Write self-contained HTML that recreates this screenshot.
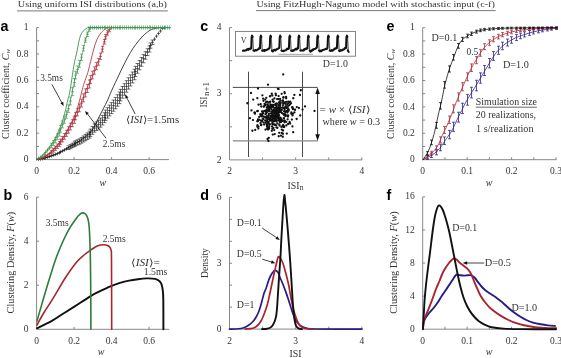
<!DOCTYPE html>
<html><head><meta charset="utf-8"><style>
html,body{margin:0;padding:0;background:#fff;width:561px;height:358px;overflow:hidden;}
svg{display:block;will-change:transform;}

</style></head><body>
<svg width="561" height="358" viewBox="0 0 561 358"><rect width="561" height="358" fill="#ffffff"/><text x="17.80" y="7.20" font-family="Liberation Serif" font-size="9.20" text-anchor="start" font-weight="normal" fill="#333333" textLength="149.20" lengthAdjust="spacingAndGlyphs" >Using uniform ISI distributions (a,b)</text>
<line x1="17.10" y1="10.90" x2="167.80" y2="10.90" stroke="#6a6a6a" stroke-width="0.90" />
<text x="256.40" y="7.20" font-family="Liberation Serif" font-size="9.20" text-anchor="start" font-weight="normal" fill="#333333" textLength="238.50" lengthAdjust="spacingAndGlyphs" >Using FitzHugh-Nagumo model with stochastic input (c-f)</text>
<line x1="256.00" y1="10.60" x2="495.60" y2="10.60" stroke="#6a6a6a" stroke-width="0.90" />
<text x="0.60" y="30.70" font-family="Liberation Sans" font-size="14.30" text-anchor="start" font-weight="bold" fill="#000" >a</text>
<text x="3.60" y="200.20" font-family="Liberation Sans" font-size="14.30" text-anchor="start" font-weight="bold" fill="#000" >b</text>
<text x="200.20" y="30.70" font-family="Liberation Sans" font-size="14.30" text-anchor="start" font-weight="bold" fill="#000" >c</text>
<text x="200.20" y="200.20" font-family="Liberation Sans" font-size="14.30" text-anchor="start" font-weight="bold" fill="#000" >d</text>
<text x="386.40" y="30.70" font-family="Liberation Sans" font-size="14.30" text-anchor="start" font-weight="bold" fill="#000" >e</text>
<text x="386.60" y="200.20" font-family="Liberation Sans" font-size="14.30" text-anchor="start" font-weight="bold" fill="#000" >f</text>
<line x1="36.60" y1="27.60" x2="36.60" y2="159.60" stroke="#7a7a7a" stroke-width="0.90" />
<line x1="36.60" y1="146.40" x2="39.10" y2="146.40" stroke="#7a7a7a" stroke-width="0.90" />
<line x1="36.60" y1="133.20" x2="39.10" y2="133.20" stroke="#7a7a7a" stroke-width="0.90" />
<line x1="36.60" y1="120.00" x2="39.10" y2="120.00" stroke="#7a7a7a" stroke-width="0.90" />
<line x1="36.60" y1="106.80" x2="39.10" y2="106.80" stroke="#7a7a7a" stroke-width="0.90" />
<line x1="36.60" y1="93.60" x2="39.10" y2="93.60" stroke="#7a7a7a" stroke-width="0.90" />
<line x1="36.60" y1="80.40" x2="39.10" y2="80.40" stroke="#7a7a7a" stroke-width="0.90" />
<line x1="36.60" y1="67.20" x2="39.10" y2="67.20" stroke="#7a7a7a" stroke-width="0.90" />
<line x1="36.60" y1="54.00" x2="39.10" y2="54.00" stroke="#7a7a7a" stroke-width="0.90" />
<line x1="36.60" y1="40.80" x2="39.10" y2="40.80" stroke="#7a7a7a" stroke-width="0.90" />
<line x1="36.60" y1="27.60" x2="39.10" y2="27.60" stroke="#7a7a7a" stroke-width="0.90" />
<line x1="36.60" y1="159.60" x2="169.00" y2="159.60" stroke="#7a7a7a" stroke-width="0.90" />
<line x1="74.10" y1="159.60" x2="74.10" y2="157.10" stroke="#7a7a7a" stroke-width="0.90" />
<line x1="111.60" y1="159.60" x2="111.60" y2="157.10" stroke="#7a7a7a" stroke-width="0.90" />
<line x1="149.10" y1="159.60" x2="149.10" y2="157.10" stroke="#7a7a7a" stroke-width="0.90" />
<text x="28.40" y="162.20" font-family="Liberation Serif" font-size="9.50" text-anchor="end" font-weight="normal" fill="#333333" >0</text>
<text x="28.40" y="135.80" font-family="Liberation Serif" font-size="9.50" text-anchor="end" font-weight="normal" fill="#333333" >0.2</text>
<text x="28.40" y="109.40" font-family="Liberation Serif" font-size="9.50" text-anchor="end" font-weight="normal" fill="#333333" >0.4</text>
<text x="28.40" y="83.00" font-family="Liberation Serif" font-size="9.50" text-anchor="end" font-weight="normal" fill="#333333" >0.6</text>
<text x="28.40" y="56.60" font-family="Liberation Serif" font-size="9.50" text-anchor="end" font-weight="normal" fill="#333333" >0.8</text>
<text x="28.40" y="30.20" font-family="Liberation Serif" font-size="9.50" text-anchor="end" font-weight="normal" fill="#333333" >1</text>
<text x="36.60" y="174.30" font-family="Liberation Serif" font-size="9.50" text-anchor="middle" font-weight="normal" fill="#333333" >0</text>
<text x="74.10" y="174.30" font-family="Liberation Serif" font-size="9.50" text-anchor="middle" font-weight="normal" fill="#333333" >0.2</text>
<text x="111.60" y="174.30" font-family="Liberation Serif" font-size="9.50" text-anchor="middle" font-weight="normal" fill="#333333" >0.4</text>
<text x="149.10" y="174.30" font-family="Liberation Serif" font-size="9.50" text-anchor="middle" font-weight="normal" fill="#333333" >0.6</text>
<text x="102.90" y="186.00" font-family="Liberation Serif" font-size="10.00" text-anchor="middle" font-weight="normal" fill="#333333" font-style="italic" >w</text>
<text transform="translate(8.60,94.00) rotate(-90)" x="0" y="0" font-family="Liberation Serif" font-size="10.20" text-anchor="middle" fill="#333333" textLength="90.00" lengthAdjust="spacingAndGlyphs">Cluster coefficient, <tspan font-style="italic">C</tspan><tspan font-size="7" font-style="italic" dy="1.5">w</tspan></text>
<path d="M36.70,159.60 C38.52,159.20 43.72,158.40 47.60,157.20 C51.48,156.00 56.27,154.18 60.00,152.40 C63.73,150.62 66.65,148.48 70.00,146.50 C73.35,144.52 76.73,142.83 80.10,140.50 C83.47,138.17 87.70,135.07 90.20,132.50 C92.70,129.93 93.63,127.68 95.10,125.10 C96.57,122.52 97.65,119.70 99.00,117.00 C100.35,114.30 101.75,111.73 103.20,108.90 C104.65,106.07 106.50,102.57 107.70,100.00 C108.90,97.43 109.43,95.75 110.40,93.50 C111.37,91.25 112.35,89.00 113.50,86.50 C114.65,84.00 116.05,81.17 117.30,78.50 C118.55,75.83 119.72,73.17 121.00,70.50 C122.28,67.83 123.45,65.47 125.00,62.50 C126.55,59.53 128.48,55.73 130.30,52.70 C132.12,49.67 133.80,47.08 135.90,44.30 C138.00,41.52 140.57,38.32 142.90,36.00 C145.23,33.68 147.80,31.68 149.90,30.40 C152.00,29.12 153.65,28.77 155.50,28.30 C157.35,27.83 158.58,27.72 161.00,27.60 C163.42,27.48 168.50,27.60 170.00,27.60" fill="none" stroke="#111111" stroke-width="0.80" stroke-linejoin="round" stroke-linecap="round" />
<path d="M38.50,157.45V161.05M37.00,159.25h3.00M40.50,157.10V160.70M39.00,158.90h3.00M42.50,156.73V160.33M41.00,158.53h3.00M44.50,156.32V159.92M43.00,158.12h3.00M45.50,155.86V159.46M44.00,157.66h3.00M47.50,155.32V158.92M46.00,157.12h3.00M49.50,154.70V158.30M48.00,156.50h3.00M51.50,154.03V157.63M50.00,155.83h3.00M53.50,153.32V156.92M52.00,155.12h3.00M55.50,152.58V156.18M54.00,154.38h3.00M57.50,151.81V155.41M56.00,153.61h3.00M59.50,151.00V154.60M58.00,152.80h3.00M60.50,150.15V153.75M59.00,151.95h3.00M62.50,149.19V152.79M61.00,150.99h3.00M64.50,148.14V151.74M63.00,149.94h3.00M66.50,147.02V150.62M65.00,148.82h3.00M68.50,145.89V149.56M67.00,147.72h3.00M66.60,145.89h3.80M66.60,149.56h3.80M70.50,144.60V148.58M69.00,146.59h3.00M68.60,144.60h3.80M68.60,148.58h3.80M72.50,143.28V147.57M71.00,145.42h3.00M70.60,143.28h3.80M70.60,147.57h3.80M74.50,141.98V146.57M73.00,144.28h3.00M72.60,141.98h3.80M72.60,146.57h3.80M75.50,140.82V145.67M74.00,143.24h3.00M73.60,140.82h3.80M73.60,145.67h3.80M77.50,139.87V144.93M76.00,142.40h3.00M75.60,139.87h3.80M75.60,144.93h3.80M79.50,138.87V144.16M78.00,141.51h3.00M77.60,138.87h3.80M77.60,144.16h3.80M81.50,137.54V143.12M80.00,140.33h3.00M79.60,137.54h3.80M79.60,143.12h3.80M83.50,136.01V141.91M82.00,138.96h3.00M81.60,136.01h3.80M81.60,141.91h3.80M85.50,134.42V140.65M84.00,137.54h3.00M83.60,134.42h3.80M83.60,140.65h3.80M87.50,132.87V139.42M86.00,136.14h3.00M85.60,132.87h3.80M85.60,139.42h3.80M89.50,131.19V138.07M88.00,134.63h3.00M87.60,131.19h3.80M87.60,138.07h3.80M90.50,129.12V136.40M89.00,132.76h3.00M88.60,129.12h3.80M88.60,136.40h3.80M92.50,126.52V134.29M91.00,130.41h3.00M90.60,126.52h3.80M90.60,134.29h3.80M94.50,123.92V132.15M93.00,128.03h3.00M92.60,123.92h3.80M92.60,132.15h3.80M96.50,121.90V130.47M95.00,126.18h3.00M94.60,121.90h3.80M94.60,130.47h3.80M98.50,120.21V129.05M97.00,124.63h3.00M96.60,120.21h3.80M96.60,129.05h3.80M100.50,118.03V127.21M99.00,122.62h3.00M98.60,118.03h3.80M98.60,127.21h3.80M102.50,115.41V124.97M101.00,120.19h3.00M100.60,115.41h3.80M100.60,124.97h3.80M104.50,112.72V122.63M103.00,117.67h3.00M102.60,112.72h3.80M102.60,122.63h3.80M105.50,110.14V120.38M104.00,115.26h3.00M103.60,110.14h3.80M103.60,120.38h3.80M107.50,107.65V118.16M106.00,112.91h3.00M105.60,107.65h3.80M105.60,118.16h3.80M109.50,105.16V115.92M108.00,110.54h3.00M107.60,105.16h3.80M107.60,115.92h3.80M111.50,102.63V113.61M110.00,108.12h3.00M109.60,102.63h3.80M109.60,113.61h3.80M113.50,100.05V111.23M112.00,105.64h3.00M111.60,100.05h3.80M111.60,111.23h3.80M115.50,97.43V108.76M114.00,103.10h3.00M113.60,97.43h3.80M113.60,108.76h3.80M117.50,94.75V106.21M116.00,100.48h3.00M115.60,94.75h3.80M115.60,106.21h3.80M119.50,92.05V103.60M118.00,97.83h3.00M117.60,92.05h3.80M117.60,103.60h3.80M120.50,89.32V100.91M119.00,95.12h3.00M118.60,89.32h3.80M118.60,100.91h3.80M122.50,86.53V98.12M121.00,92.33h3.00M120.60,86.53h3.80M120.60,98.12h3.80M124.50,83.66V95.21M123.00,89.43h3.00M122.60,83.66h3.80M122.60,95.21h3.80M126.50,80.73V92.18M125.00,86.45h3.00M124.60,80.73h3.80M124.60,92.18h3.80M128.50,77.79V89.09M127.00,83.44h3.00M126.60,77.79h3.80M126.60,89.09h3.80M130.50,74.90V85.99M129.00,80.44h3.00M128.60,74.90h3.80M128.60,85.99h3.80M132.50,72.05V82.89M131.00,77.47h3.00M130.60,72.05h3.80M130.60,82.89h3.80M134.50,69.23V79.76M133.00,74.49h3.00M132.60,69.23h3.80M132.60,79.76h3.80M135.50,66.39V76.57M134.00,71.48h3.00M133.60,66.39h3.80M133.60,76.57h3.80M137.50,63.50V73.26M136.00,68.38h3.00M135.60,63.50h3.80M135.60,73.26h3.80M139.50,60.55V69.82M138.00,65.18h3.00M137.60,60.55h3.80M137.60,69.82h3.80M141.50,57.56V66.29M140.00,61.93h3.00M139.60,57.56h3.80M139.60,66.29h3.80M143.50,54.61V62.75M142.00,58.68h3.00M141.60,54.61h3.80M141.60,62.75h3.80M145.50,51.70V59.20M144.00,55.45h3.00M143.60,51.70h3.80M143.60,59.20h3.80M147.50,48.80V55.60M146.00,52.20h3.00M145.60,48.80h3.80M145.60,55.60h3.80M149.50,45.88V51.94M148.00,48.91h3.00M147.60,45.88h3.80M147.60,51.94h3.80M150.50,42.92V48.17M149.00,45.54h3.00M148.60,42.92h3.80M148.60,48.17h3.80M152.50,40.05V44.46M151.00,42.25h3.00M150.60,40.05h3.80M150.60,44.46h3.80M154.50,37.33V40.93M153.00,39.13h3.00M156.50,34.35V37.95M155.00,36.15h3.00M158.50,31.64V35.24M157.00,33.44h3.00M160.50,29.25V32.85M159.00,31.05h3.00M162.50,26.60V30.20M161.00,28.40h3.00M164.50,25.87V29.47M163.00,27.67h3.00" fill="none" stroke="#111" stroke-width="0.65" opacity="0.95"/>
<path d="M36.70,159.60 C38.03,159.08 42.15,157.98 44.70,156.50 C47.25,155.02 49.08,153.62 52.00,150.70 C54.92,147.78 59.15,143.37 62.20,139.00 C65.25,134.63 68.25,128.33 70.30,124.50 C72.35,120.67 73.28,118.75 74.50,116.00 C75.72,113.25 76.40,112.00 77.60,108.00 C78.80,104.00 80.63,96.08 81.70,92.00 C82.77,87.92 82.97,86.78 84.00,83.50 C85.03,80.22 86.78,76.02 87.90,72.30 C89.02,68.58 89.77,64.92 90.70,61.20 C91.63,57.48 92.48,53.55 93.50,50.00 C94.52,46.45 95.50,42.80 96.80,39.90 C98.10,37.00 99.80,34.47 101.30,32.60 C102.80,30.73 104.50,29.53 105.80,28.70 C107.10,27.87 106.73,27.78 109.10,27.60 C111.47,27.42 118.18,27.60 120.00,27.60" fill="none" stroke="#a82530" stroke-width="0.80" stroke-linejoin="round" stroke-linecap="round" />
<path d="M38.50,157.46V160.66M36.90,159.06h3.20M40.50,156.90V160.10M38.90,158.50h3.20M42.50,156.29V159.49M40.90,157.89h3.20M44.50,155.57V158.77M42.90,157.17h3.20M45.50,154.64V157.84M43.90,156.24h3.20M47.50,153.49V156.69M45.90,155.09h3.20M49.50,152.10V155.30M47.90,153.70h3.20M51.50,150.37V153.75M49.90,152.06h3.20M49.90,150.37h3.20M49.90,153.75h3.20M53.50,148.34V152.10M51.90,150.22h3.20M51.90,148.34h3.20M51.90,152.10h3.20M55.50,146.20V150.33M53.90,148.27h3.20M53.90,146.20h3.20M53.90,150.33h3.20M57.50,143.97V148.44M55.90,146.21h3.20M55.90,143.97h3.20M55.90,148.44h3.20M59.50,141.62V146.44M57.90,144.03h3.20M57.90,141.62h3.20M57.90,146.44h3.20M60.50,139.15V144.29M58.90,141.72h3.20M58.90,139.15h3.20M58.90,144.29h3.20M62.50,136.48V141.94M60.90,139.21h3.20M60.90,136.48h3.20M60.90,141.94h3.20M64.50,133.50V139.30M62.90,136.40h3.20M62.90,133.50h3.20M62.90,139.30h3.20M66.50,130.23V136.35M64.90,133.29h3.20M64.90,130.23h3.20M64.90,136.35h3.20M68.50,126.76V133.20M66.90,129.98h3.20M66.90,126.76h3.20M66.90,133.20h3.20M70.50,123.21V129.94M68.90,126.57h3.20M68.90,123.21h3.20M68.90,129.94h3.20M72.50,119.71V126.69M70.90,123.20h3.20M70.90,119.71h3.20M70.90,126.69h3.20M74.50,116.15V123.36M72.90,119.75h3.20M72.90,116.15h3.20M72.90,123.36h3.20M75.50,112.36V119.78M73.90,116.07h3.20M73.90,112.36h3.20M73.90,119.78h3.20M77.50,108.36V115.96M75.90,112.16h3.20M75.90,108.36h3.20M75.90,115.96h3.20M79.50,104.01V111.78M77.90,107.90h3.20M77.90,104.01h3.20M77.90,111.78h3.20M81.50,99.14V107.03M79.90,103.09h3.20M79.90,99.14h3.20M79.90,107.03h3.20M83.50,93.79V101.77M81.90,97.78h3.20M81.90,93.79h3.20M81.90,101.77h3.20M85.50,88.87V96.87M83.90,92.87h3.20M83.90,88.87h3.20M83.90,96.87h3.20M87.50,84.50V92.47M85.90,88.49h3.20M85.90,84.50h3.20M85.90,92.47h3.20M89.50,80.08V87.98M87.90,84.03h3.20M87.90,80.08h3.20M87.90,87.98h3.20M90.50,75.65V83.43M88.90,79.54h3.20M88.90,75.65h3.20M88.90,83.43h3.20M92.50,71.25V78.86M90.90,75.05h3.20M90.90,71.25h3.20M90.90,78.86h3.20M94.50,66.87V74.26M92.90,70.57h3.20M92.90,66.87h3.20M92.90,74.26h3.20M96.50,62.52V69.64M94.90,66.08h3.20M94.90,62.52h3.20M94.90,69.64h3.20M98.50,58.41V65.23M96.90,61.82h3.20M96.90,58.41h3.20M96.90,65.23h3.20M100.50,53.21V59.57M98.90,56.39h3.20M98.90,53.21h3.20M98.90,59.57h3.20M102.50,46.34V51.94M100.90,49.14h3.20M100.90,46.34h3.20M100.90,51.94h3.20M104.50,39.51V44.12M102.90,41.82h3.20M102.90,39.51h3.20M102.90,44.12h3.20M105.50,34.53V38.93M103.90,36.73h3.20M103.90,34.53h3.20M103.90,38.93h3.20M107.50,30.70V35.10M105.90,32.90h3.20M105.90,30.70h3.20M105.90,35.10h3.20M109.50,27.35V31.75M107.90,29.55h3.20M107.90,27.35h3.20M107.90,31.75h3.20M111.50,25.99V29.19M109.90,27.59h3.20" fill="none" stroke="#a82530" stroke-width="0.70" opacity="0.95"/>
<path d="M36.70,159.60 C38.17,159.08 42.78,157.98 45.50,156.50 C48.22,155.02 50.08,153.62 53.00,150.70 C55.92,147.78 59.92,143.37 63.00,139.00 C66.08,134.63 69.25,128.50 71.50,124.50 C73.75,120.50 75.00,118.08 76.50,115.00 C78.00,111.92 79.17,109.33 80.50,106.00 C81.83,102.67 83.27,98.18 84.50,95.00 C85.73,91.82 86.78,89.57 87.90,86.90 C89.02,84.23 90.18,81.43 91.20,79.00 C92.22,76.57 93.07,74.53 94.00,72.30 C94.93,70.07 95.87,67.83 96.80,65.60 C97.73,63.37 98.73,61.50 99.60,58.90 C100.47,56.30 101.15,53.17 102.00,50.00 C102.85,46.83 103.70,42.80 104.70,39.90 C105.70,37.00 107.07,34.47 108.00,32.60 C108.93,30.73 109.72,29.53 110.30,28.70 C110.88,27.87 109.88,27.78 111.50,27.60 C113.12,27.42 118.58,27.60 120.00,27.60" fill="none" stroke="#a82530" stroke-width="0.50" stroke-linejoin="round" stroke-linecap="round" />
<path d="M36.70,159.60 C37.42,159.08 39.37,157.98 41.00,156.50 C42.63,155.02 44.20,153.62 46.50,150.70 C48.80,147.78 52.35,143.37 54.80,139.00 C57.25,134.63 59.78,128.00 61.20,124.50 C62.62,121.00 62.58,120.37 63.30,118.00 C64.02,115.63 64.75,113.30 65.50,110.30 C66.25,107.30 67.13,102.80 67.80,100.00 C68.47,97.20 68.85,96.83 69.50,93.50 C70.15,90.17 71.15,83.53 71.70,80.00 C72.25,76.47 72.30,75.43 72.80,72.30 C73.30,69.17 73.95,64.92 74.70,61.20 C75.45,57.48 76.50,53.73 77.30,50.00 C78.10,46.27 78.67,41.78 79.50,38.80 C80.33,35.82 81.08,33.87 82.30,32.10 C83.52,30.33 85.60,28.95 86.80,28.20 C88.00,27.45 87.30,27.70 89.50,27.60 C91.70,27.50 98.25,27.60 100.00,27.60" fill="none" stroke="#2b7d3d" stroke-width="0.80" stroke-linejoin="round" stroke-linecap="round" />
<line x1="88.00" y1="27.60" x2="170.20" y2="27.60" stroke="#2b7d3d" stroke-width="0.90" />
<path d="M38.50,156.54V160.74M36.90,158.64h3.20M40.50,155.45V159.65M38.90,157.55h3.20M42.50,154.05V158.25M40.90,156.15h3.20M44.50,152.37V156.57M42.90,154.47h3.20M45.50,150.40V154.60M43.90,152.50h3.20M47.50,148.17V152.37M45.90,150.27h3.20M49.50,145.83V150.03M47.90,147.93h3.20M51.50,143.21V147.80M49.90,145.50h3.20M49.90,143.21h3.20M49.90,147.80h3.20M53.50,140.43V145.41M51.90,142.92h3.20M51.90,140.43h3.20M51.90,145.41h3.20M55.50,137.40V142.76M53.90,140.08h3.20M53.90,137.40h3.20M53.90,142.76h3.20M57.50,133.91V139.66M55.90,136.79h3.20M55.90,133.91h3.20M55.90,139.66h3.20M59.50,129.93V136.08M57.90,133.00h3.20M57.90,129.93h3.20M57.90,136.08h3.20M60.50,125.54V132.09M58.90,128.81h3.20M58.90,125.54h3.20M58.90,132.09h3.20M62.50,120.93V127.83M60.90,124.38h3.20M60.90,120.93h3.20M60.90,127.83h3.20M64.50,116.09V123.30M62.90,119.70h3.20M62.90,116.09h3.20M62.90,123.30h3.20M66.50,110.81V118.31M64.90,114.56h3.20M64.90,110.81h3.20M64.90,118.31h3.20M68.50,104.83V112.57M66.90,108.70h3.20M66.90,104.83h3.20M66.90,112.57h3.20M70.50,97.04V104.98M68.90,101.01h3.20M68.90,97.04h3.20M68.90,104.98h3.20M72.50,87.60V95.59M70.90,91.60h3.20M70.90,87.60h3.20M70.90,95.59h3.20M74.50,78.53V86.39M72.90,82.46h3.20M72.90,78.53h3.20M72.90,86.39h3.20M75.50,71.28V78.89M73.90,75.09h3.20M73.90,71.28h3.20M73.90,78.89h3.20M77.50,65.87V73.21M75.90,69.54h3.20M75.90,65.87h3.20M75.90,73.21h3.20M79.50,60.37V67.35M77.90,63.86h3.20M77.90,60.37h3.20M77.90,67.35h3.20M81.50,54.03V60.47M79.90,57.25h3.20M79.90,54.03h3.20M79.90,60.47h3.20M83.50,45.47V50.96M81.90,48.22h3.20M81.90,45.47h3.20M81.90,50.96h3.20M85.50,37.91V42.31M83.90,40.11h3.20M83.90,37.91h3.20M83.90,42.31h3.20M87.50,32.14V36.54M85.90,34.34h3.20M85.90,32.14h3.20M85.90,36.54h3.20M89.50,26.95V31.35M87.90,29.15h3.20M87.90,26.95h3.20M87.90,31.35h3.20M90.50,25.42V29.62M88.90,27.52h3.20M92.50,25.49V29.69M90.90,27.59h3.20M94.50,25.49V29.69M92.90,27.59h3.20M96.50,25.49V29.69M94.90,27.59h3.20M98.50,25.50V29.70M96.90,27.60h3.20M100.50,25.50V29.70M98.90,27.60h3.20M102.50,25.50V29.70M100.90,27.60h3.20M104.50,25.50V29.70M102.90,27.60h3.20M105.50,25.50V29.70M103.90,27.60h3.20M107.50,25.50V29.70M105.90,27.60h3.20M109.50,25.50V29.70M107.90,27.60h3.20M111.50,25.50V29.70M109.90,27.60h3.20M113.50,25.50V29.70M111.90,27.60h3.20M115.50,25.50V29.70M113.90,27.60h3.20M117.50,25.50V29.70M115.90,27.60h3.20M119.50,25.50V29.70M117.90,27.60h3.20M120.50,25.50V29.70M118.90,27.60h3.20M122.50,25.50V29.70M120.90,27.60h3.20M124.50,25.50V29.70M122.90,27.60h3.20M126.50,25.50V29.70M124.90,27.60h3.20M128.50,25.50V29.70M126.90,27.60h3.20M130.50,25.50V29.70M128.90,27.60h3.20M132.50,25.50V29.70M130.90,27.60h3.20M134.50,25.50V29.70M132.90,27.60h3.20M135.50,25.50V29.70M133.90,27.60h3.20M137.50,25.50V29.70M135.90,27.60h3.20M139.50,25.50V29.70M137.90,27.60h3.20M141.50,25.50V29.70M139.90,27.60h3.20M143.50,25.50V29.70M141.90,27.60h3.20M145.50,25.50V29.70M143.90,27.60h3.20M147.50,25.50V29.70M145.90,27.60h3.20M149.50,25.50V29.70M147.90,27.60h3.20M150.50,25.50V29.70M148.90,27.60h3.20M152.50,25.50V29.70M150.90,27.60h3.20M154.50,25.50V29.70M152.90,27.60h3.20M156.50,25.50V29.70M154.90,27.60h3.20M158.50,25.50V29.70M156.90,27.60h3.20M160.50,25.50V29.70M158.90,27.60h3.20M162.50,25.50V29.70M160.90,27.60h3.20M164.50,25.50V29.70M162.90,27.60h3.20M165.50,25.50V29.70M163.90,27.60h3.20M167.50,25.50V29.70M165.90,27.60h3.20M169.50,25.50V29.70M167.90,27.60h3.20" fill="none" stroke="#3f9a52" stroke-width="0.70" opacity="0.90"/>
<path d="M36.70,159.60 C37.55,159.08 40.00,157.98 41.80,156.50 C43.60,155.02 45.13,153.62 47.50,150.70 C49.87,147.78 53.45,143.37 56.00,139.00 C58.55,134.63 60.80,129.28 62.80,124.50 C64.80,119.72 66.63,114.72 68.00,110.30 C69.37,105.88 70.13,101.97 71.00,98.00 C71.87,94.03 72.40,90.22 73.20,86.50 C74.00,82.78 74.93,78.80 75.80,75.70 C76.67,72.60 77.50,70.70 78.40,67.90 C79.30,65.10 80.38,62.05 81.20,58.90 C82.02,55.75 82.55,52.35 83.30,49.00 C84.05,45.65 84.93,41.53 85.70,38.80 C86.47,36.07 87.22,34.43 87.90,32.60 C88.58,30.77 89.12,28.63 89.80,27.80 C90.48,26.97 90.30,27.63 92.00,27.60 C93.70,27.57 98.67,27.60 100.00,27.60" fill="none" stroke="#2b7d3d" stroke-width="0.50" stroke-linejoin="round" stroke-linecap="round" />
<text x="40.20" y="81.00" font-family="Liberation Serif" font-size="9.50" text-anchor="start" font-weight="normal" fill="#333333" textLength="22.60" lengthAdjust="spacingAndGlyphs" >3.5ms</text>
<line x1="51.90" y1="84.30" x2="62.18" y2="103.29" stroke="#111111" stroke-width="0.80" />
<polygon points="63.70,106.10 60.39,103.34 63.20,101.82" fill="#111111"/>
<text x="102.70" y="146.60" font-family="Liberation Serif" font-size="9.50" text-anchor="start" font-weight="normal" fill="#333333" textLength="22.60" lengthAdjust="spacingAndGlyphs" >2.5ms</text>
<line x1="106.00" y1="138.20" x2="87.05" y2="113.44" stroke="#111111" stroke-width="0.80" />
<polygon points="85.10,110.90 88.80,113.10 86.26,115.05" fill="#111111"/>
<text x="125.7" y="122.7" font-family="Liberation Serif" font-size="9.6" fill="#333333" textLength="53.4" lengthAdjust="spacingAndGlyphs">⟨<tspan font-style="italic">ISI</tspan>⟩=1.5ms</text>
<line x1="135.10" y1="113.90" x2="126.56" y2="97.25" stroke="#111111" stroke-width="0.80" />
<polygon points="125.10,94.40 128.35,97.23 125.50,98.69" fill="#111111"/>
<line x1="36.60" y1="197.12" x2="36.60" y2="329.30" stroke="#7a7a7a" stroke-width="0.90" />
<line x1="36.60" y1="285.24" x2="39.10" y2="285.24" stroke="#7a7a7a" stroke-width="0.90" />
<line x1="36.60" y1="241.18" x2="39.10" y2="241.18" stroke="#7a7a7a" stroke-width="0.90" />
<line x1="36.60" y1="197.12" x2="39.10" y2="197.12" stroke="#7a7a7a" stroke-width="0.90" />
<line x1="36.60" y1="329.30" x2="169.20" y2="329.30" stroke="#7a7a7a" stroke-width="0.90" />
<line x1="74.10" y1="329.30" x2="74.10" y2="326.80" stroke="#7a7a7a" stroke-width="0.90" />
<line x1="111.60" y1="329.30" x2="111.60" y2="326.80" stroke="#7a7a7a" stroke-width="0.90" />
<line x1="149.10" y1="329.30" x2="149.10" y2="326.80" stroke="#7a7a7a" stroke-width="0.90" />
<text x="28.40" y="331.90" font-family="Liberation Serif" font-size="9.50" text-anchor="end" font-weight="normal" fill="#333333" >0</text>
<text x="28.40" y="287.84" font-family="Liberation Serif" font-size="9.50" text-anchor="end" font-weight="normal" fill="#333333" >2</text>
<text x="28.40" y="243.78" font-family="Liberation Serif" font-size="9.50" text-anchor="end" font-weight="normal" fill="#333333" >4</text>
<text x="28.40" y="199.72" font-family="Liberation Serif" font-size="9.50" text-anchor="end" font-weight="normal" fill="#333333" >6</text>
<text x="36.60" y="344.00" font-family="Liberation Serif" font-size="9.50" text-anchor="middle" font-weight="normal" fill="#333333" >0</text>
<text x="74.10" y="344.00" font-family="Liberation Serif" font-size="9.50" text-anchor="middle" font-weight="normal" fill="#333333" >0.2</text>
<text x="111.60" y="344.00" font-family="Liberation Serif" font-size="9.50" text-anchor="middle" font-weight="normal" fill="#333333" >0.4</text>
<text x="149.10" y="344.00" font-family="Liberation Serif" font-size="9.50" text-anchor="middle" font-weight="normal" fill="#333333" >0.6</text>
<text x="101.00" y="355.00" font-family="Liberation Serif" font-size="10.00" text-anchor="middle" font-weight="normal" fill="#333333" font-style="italic" >w</text>
<text transform="translate(13.60,262.60) rotate(-90)" x="0" y="0" font-family="Liberation Serif" font-size="10.20" text-anchor="middle" fill="#333333" textLength="101.70" lengthAdjust="spacingAndGlyphs">Clustering Density, <tspan font-style="italic">F</tspan>(<tspan font-style="italic">w</tspan>)</text>
<path d="M37.00,328.30 C38.17,327.72 41.45,326.08 44.00,324.80 C46.55,323.52 49.13,322.43 52.30,320.60 C55.47,318.77 59.27,316.17 63.00,313.80 C66.73,311.43 70.15,309.32 74.70,306.40 C79.25,303.48 86.08,298.83 90.30,296.30 C94.52,293.77 96.65,292.87 100.00,291.20 C103.35,289.53 107.07,287.68 110.40,286.30 C113.73,284.92 116.88,283.85 120.00,282.90 C123.12,281.95 126.10,281.22 129.10,280.60 C132.10,279.98 135.05,279.57 138.00,279.20 C140.95,278.83 144.38,278.50 146.80,278.40 C149.22,278.30 150.88,278.45 152.50,278.60 C154.12,278.75 155.32,278.87 156.50,279.30 C157.68,279.73 158.75,280.33 159.60,281.20 C160.45,282.07 161.07,282.92 161.60,284.50 C162.13,286.08 162.52,288.12 162.80,290.70 C163.08,293.28 163.20,293.57 163.30,300.00 C163.40,306.43 163.38,324.42 163.40,329.30" fill="none" stroke="#111111" stroke-width="1.95" stroke-linejoin="round" stroke-linecap="round" />
<path d="M37.00,325.00 C38.17,322.92 41.45,316.72 44.00,312.50 C46.55,308.28 48.68,305.57 52.30,299.70 C55.92,293.83 61.60,283.63 65.70,277.30 C69.80,270.97 73.73,265.50 76.90,261.70 C80.07,257.90 82.35,256.48 84.70,254.50 C87.05,252.52 88.82,251.27 91.00,249.80 C93.18,248.33 95.68,246.55 97.80,245.70 C99.92,244.85 102.08,244.73 103.70,244.70 C105.32,244.67 106.48,245.08 107.50,245.50 C108.52,245.92 109.20,246.37 109.80,247.20 C110.40,248.03 110.82,248.37 111.10,250.50 C111.38,252.63 111.40,246.87 111.50,260.00 C111.60,273.13 111.67,317.75 111.70,329.30" fill="none" stroke="#a82530" stroke-width="1.60" stroke-linejoin="round" stroke-linecap="round" />
<path d="M37.00,321.00 C38.50,315.83 42.93,300.17 46.00,290.00 C49.07,279.83 52.73,267.75 55.40,260.00 C58.07,252.25 59.72,248.65 62.00,243.50 C64.28,238.35 66.60,233.45 69.10,229.10 C71.60,224.75 75.18,219.88 77.00,217.40 C78.82,214.92 79.10,214.95 80.00,214.20 C80.90,213.45 81.57,213.00 82.40,212.90 C83.23,212.80 84.27,213.12 85.00,213.60 C85.73,214.08 86.27,214.73 86.80,215.80 C87.33,216.87 87.82,218.30 88.20,220.00 C88.58,221.70 88.83,222.83 89.10,226.00 C89.37,229.17 89.58,233.33 89.80,239.00 C90.02,244.67 90.23,249.83 90.40,260.00 C90.57,270.17 90.72,288.45 90.80,300.00 C90.88,311.55 90.88,324.42 90.90,329.30" fill="none" stroke="#2b7d3d" stroke-width="1.60" stroke-linejoin="round" stroke-linecap="round" />
<text x="45.70" y="226.20" font-family="Liberation Serif" font-size="9.50" text-anchor="start" font-weight="normal" fill="#333333" textLength="23.00" lengthAdjust="spacingAndGlyphs" >3.5ms</text>
<text x="102.70" y="241.80" font-family="Liberation Serif" font-size="9.50" text-anchor="start" font-weight="normal" fill="#333333" textLength="23.00" lengthAdjust="spacingAndGlyphs" >2.5ms</text>
<text x="131" y="266.4" font-family="Liberation Serif" font-size="9.6" fill="#333333" textLength="29" lengthAdjust="spacingAndGlyphs">⟨<tspan font-style="italic">ISI</tspan>⟩=</text>
<text x="143.80" y="274.60" font-family="Liberation Serif" font-size="9.50" text-anchor="start" font-weight="normal" fill="#333333" textLength="23.50" lengthAdjust="spacingAndGlyphs" >1.5ms</text>
<line x1="229.50" y1="27.60" x2="229.50" y2="159.90" stroke="#7a7a7a" stroke-width="0.90" />
<line x1="229.50" y1="126.83" x2="232.00" y2="126.83" stroke="#7a7a7a" stroke-width="0.90" />
<line x1="229.50" y1="93.75" x2="232.00" y2="93.75" stroke="#7a7a7a" stroke-width="0.90" />
<line x1="229.50" y1="60.67" x2="232.00" y2="60.67" stroke="#7a7a7a" stroke-width="0.90" />
<line x1="229.50" y1="27.60" x2="232.00" y2="27.60" stroke="#7a7a7a" stroke-width="0.90" />
<line x1="229.50" y1="159.90" x2="362.30" y2="159.90" stroke="#7a7a7a" stroke-width="0.90" />
<line x1="262.57" y1="159.90" x2="262.57" y2="157.40" stroke="#7a7a7a" stroke-width="0.90" />
<line x1="295.65" y1="159.90" x2="295.65" y2="157.40" stroke="#7a7a7a" stroke-width="0.90" />
<line x1="328.73" y1="159.90" x2="328.73" y2="157.40" stroke="#7a7a7a" stroke-width="0.90" />
<line x1="361.80" y1="159.90" x2="361.80" y2="157.40" stroke="#7a7a7a" stroke-width="0.90" />
<text x="221.60" y="162.50" font-family="Liberation Serif" font-size="9.50" text-anchor="end" font-weight="normal" fill="#333333" >2</text>
<text x="229.50" y="173.90" font-family="Liberation Serif" font-size="9.50" text-anchor="middle" font-weight="normal" fill="#333333" >2</text>
<text x="221.60" y="96.35" font-family="Liberation Serif" font-size="9.50" text-anchor="end" font-weight="normal" fill="#333333" >3</text>
<text x="295.65" y="173.90" font-family="Liberation Serif" font-size="9.50" text-anchor="middle" font-weight="normal" fill="#333333" >3</text>
<text x="221.60" y="30.20" font-family="Liberation Serif" font-size="9.50" text-anchor="end" font-weight="normal" fill="#333333" >4</text>
<text x="361.80" y="173.90" font-family="Liberation Serif" font-size="9.50" text-anchor="middle" font-weight="normal" fill="#333333" >4</text>
<text x="287.6" y="188.9" font-family="Liberation Serif" font-size="9.8" fill="#333333">ISI<tspan font-size="7.8" dy="1.1">n</tspan></text>
<text transform="translate(206.6,107.3) rotate(-90)" font-family="Liberation Serif" font-size="9.6" fill="#333333" textLength="10.6" lengthAdjust="spacingAndGlyphs">ISI</text>
<text transform="translate(208.5,96.0) rotate(-90)" font-family="Liberation Serif" font-size="7.4" fill="#333333" textLength="14.0" lengthAdjust="spacingAndGlyphs">n+1</text>
<rect x="235.5" y="31.4" width="120" height="24.8" fill="none" stroke="#777" stroke-width="0.9"/>
<text x="240.80" y="43.40" font-family="Liberation Serif" font-size="8.20" text-anchor="start" font-weight="normal" fill="#333333" >V</text>
<line x1="278.50" y1="54.30" x2="313.00" y2="54.30" stroke="#999" stroke-width="0.90" />
<path d="M252.60,36.80 L253.00,43.00 L253.40,50.20M261.40,36.80 L261.80,43.00 L262.20,50.20M271.10,36.80 L271.50,43.00 L271.90,50.20M280.70,36.80 L281.10,43.00 L281.50,50.20M290.30,36.80 L290.70,43.00 L291.10,50.20M299.50,36.80 L299.90,43.00 L300.30,50.20M308.90,36.80 L309.30,43.00 L309.70,50.20M318.30,36.80 L318.70,43.00 L319.10,50.20M328.90,36.80 L329.30,43.00 L329.70,50.20M338.30,36.80 L338.70,43.00 L339.10,50.20M347.40,36.80 L347.80,43.00 L348.20,50.20" fill="none" stroke="#666" stroke-width="1.3" stroke-linejoin="round"/>
<path d="M243.00,50.80 L243.63,50.55 L244.26,50.84 L244.89,50.43 L245.52,50.57 L246.15,50.39 L246.78,49.38 L247.42,49.06 L248.05,49.95 L248.68,48.87 L249.31,48.55 L249.94,49.32 L250.57,48.28 L251.20,48.47 L251.45,42.00 L251.65,37.00 L252.10,35.60 L252.60,36.80M253.40,50.60 L254.06,50.85 L254.72,50.88 L255.38,49.95 L256.04,50.36 L256.70,50.38 L257.36,49.57 L258.02,49.52 L258.68,49.04 L259.34,47.80 L260.00,48.36 L260.25,42.00 L260.45,37.00 L260.90,35.60 L261.40,36.80M262.20,50.60 L262.82,51.04 L263.45,50.48 L264.07,49.91 L264.70,50.87 L265.32,50.08 L265.95,50.17 L266.58,50.12 L267.20,49.60 L267.83,49.58 L268.45,48.53 L269.08,48.77 L269.70,47.92 L269.95,42.00 L270.15,37.00 L270.60,35.60 L271.10,36.80M271.90,50.60 L272.52,51.52 L273.13,51.29 L273.75,50.01 L274.37,49.85 L274.98,49.72 L275.60,50.51 L276.22,49.50 L276.83,49.48 L277.45,48.72 L278.07,48.69 L278.68,48.18 L279.30,47.79 L279.55,42.00 L279.75,37.00 L280.20,35.60 L280.70,36.80M281.50,50.60 L282.12,51.03 L282.73,50.87 L283.35,51.14 L283.97,50.61 L284.58,50.72 L285.20,50.36 L285.82,50.28 L286.43,49.54 L287.05,48.52 L287.67,49.18 L288.28,48.99 L288.90,48.57 L289.15,42.00 L289.35,37.00 L289.80,35.60 L290.30,36.80M291.10,50.60 L291.74,50.99 L292.37,51.02 L293.01,50.11 L293.65,50.74 L294.28,50.11 L294.92,49.41 L295.55,48.80 L296.19,49.57 L296.83,49.42 L297.46,47.80 L298.10,48.42 L298.35,42.00 L298.55,37.00 L299.00,35.60 L299.50,36.80M300.30,50.60 L300.95,50.77 L301.61,50.24 L302.26,50.22 L302.92,50.65 L303.57,50.53 L304.23,49.08 L304.88,49.57 L305.54,48.44 L306.19,49.04 L306.85,48.14 L307.50,48.53 L307.75,42.00 L307.95,37.00 L308.40,35.60 L308.90,36.80M309.70,50.60 L310.30,51.58 L310.90,50.76 L311.50,51.27 L312.10,50.09 L312.70,49.53 L313.30,50.00 L313.90,48.93 L314.50,48.88 L315.10,48.87 L315.70,48.83 L316.30,47.86 L316.90,47.36 L317.15,42.00 L317.35,37.00 L317.80,35.60 L318.30,36.80M319.10,50.60 L319.75,51.43 L320.39,50.52 L321.04,51.26 L321.68,50.98 L322.33,50.04 L322.98,49.93 L323.62,49.77 L324.27,49.68 L324.92,49.34 L325.56,49.01 L326.21,48.79 L326.85,48.93 L327.50,48.01 L327.75,42.00 L327.95,37.00 L328.40,35.60 L328.90,36.80M329.70,50.60 L330.30,50.81 L330.90,51.06 L331.50,50.20 L332.10,50.08 L332.70,50.79 L333.30,49.89 L333.90,49.66 L334.50,48.62 L335.10,48.88 L335.70,48.79 L336.30,47.67 L336.90,48.16 L337.15,42.00 L337.35,37.00 L337.80,35.60 L338.30,36.80M339.10,50.60 L339.73,51.08 L340.35,50.11 L340.98,50.69 L341.61,50.22 L342.24,50.26 L342.86,49.51 L343.49,49.70 L344.12,49.41 L344.75,48.07 L345.37,47.76 L346.00,48.25 L346.25,42.00 L346.45,37.00 L346.90,35.60 L347.40,36.80M347.80,50.4 L348.6,51.8" fill="none" stroke="#111" stroke-width="2.0" stroke-linejoin="round" stroke-linecap="round"/>
<text x="322.80" y="66.70" font-family="Liberation Serif" font-size="9.50" text-anchor="start" font-weight="normal" fill="#333333" textLength="25.20" lengthAdjust="spacingAndGlyphs" >D=1.0</text>
<line x1="248.50" y1="71.70" x2="248.50" y2="157.00" stroke="#333" stroke-width="0.90" />
<line x1="302.50" y1="71.70" x2="302.50" y2="157.00" stroke="#333" stroke-width="0.90" />
<line x1="232.80" y1="87.40" x2="317.60" y2="87.40" stroke="#333" stroke-width="0.90" />
<line x1="232.80" y1="140.80" x2="318.00" y2="140.80" stroke="#888" stroke-width="1.30" />
<line x1="317.60" y1="91.00" x2="317.60" y2="137.50" stroke="#111" stroke-width="0.90" />
<polygon points="317.6,87.4 315.3,94.0 319.9,94.0" fill="#111"/>
<polygon points="317.6,140.8 315.3,134.2 319.9,134.2" fill="#111"/>
<text x="319.6" y="112.6" font-family="Liberation Serif" font-size="9.6" fill="#333333" textLength="50.6" lengthAdjust="spacingAndGlyphs">= <tspan font-style="italic">w</tspan> × ⟨<tspan font-style="italic">ISI</tspan>⟩</text>
<text x="322.5" y="124.6" font-family="Liberation Serif" font-size="9.6" fill="#333333" textLength="57.7" lengthAdjust="spacingAndGlyphs">where <tspan font-style="italic">w</tspan> = 0.3</text>
<g fill="#111"><circle cx="277.19" cy="117.77" r="1.15"/><circle cx="272.83" cy="106.97" r="1.15"/><circle cx="273.83" cy="105.02" r="1.15"/><circle cx="282.58" cy="126.04" r="1.15"/><circle cx="276.27" cy="107.59" r="1.15"/><circle cx="273.26" cy="121.40" r="1.15"/><circle cx="269.30" cy="109.15" r="1.15"/><circle cx="279.70" cy="120.57" r="1.15"/><circle cx="284.62" cy="103.25" r="1.15"/><circle cx="284.75" cy="93.31" r="1.15"/><circle cx="290.21" cy="101.68" r="1.15"/><circle cx="288.08" cy="109.27" r="1.15"/><circle cx="273.07" cy="115.11" r="1.15"/><circle cx="294.37" cy="94.97" r="1.15"/><circle cx="276.57" cy="116.04" r="1.15"/><circle cx="286.12" cy="101.88" r="1.15"/><circle cx="279.43" cy="102.98" r="1.15"/><circle cx="261.67" cy="116.32" r="1.15"/><circle cx="280.80" cy="121.98" r="1.15"/><circle cx="279.95" cy="110.84" r="1.15"/><circle cx="274.90" cy="116.70" r="1.15"/><circle cx="286.61" cy="108.07" r="1.15"/><circle cx="254.88" cy="112.67" r="1.15"/><circle cx="268.69" cy="122.02" r="1.15"/><circle cx="292.45" cy="126.45" r="1.15"/><circle cx="262.05" cy="111.41" r="1.15"/><circle cx="278.12" cy="120.35" r="1.15"/><circle cx="281.02" cy="119.43" r="1.15"/><circle cx="279.87" cy="120.11" r="1.15"/><circle cx="259.13" cy="119.79" r="1.15"/><circle cx="271.10" cy="113.32" r="1.15"/><circle cx="267.65" cy="107.35" r="1.15"/><circle cx="279.43" cy="110.23" r="1.15"/><circle cx="274.17" cy="130.04" r="1.15"/><circle cx="282.52" cy="100.83" r="1.15"/><circle cx="258.55" cy="104.65" r="1.15"/><circle cx="278.98" cy="111.74" r="1.15"/><circle cx="268.46" cy="128.93" r="1.15"/><circle cx="276.26" cy="110.57" r="1.15"/><circle cx="286.33" cy="125.39" r="1.15"/><circle cx="277.51" cy="110.40" r="1.15"/><circle cx="271.74" cy="116.89" r="1.15"/><circle cx="270.89" cy="105.78" r="1.15"/><circle cx="273.08" cy="112.07" r="1.15"/><circle cx="269.05" cy="128.07" r="1.15"/><circle cx="279.50" cy="120.40" r="1.15"/><circle cx="284.43" cy="121.24" r="1.15"/><circle cx="278.86" cy="119.88" r="1.15"/><circle cx="288.72" cy="109.69" r="1.15"/><circle cx="278.66" cy="89.06" r="1.15"/><circle cx="273.04" cy="106.70" r="1.15"/><circle cx="286.81" cy="133.56" r="1.15"/><circle cx="279.21" cy="105.34" r="1.15"/><circle cx="276.51" cy="120.57" r="1.15"/><circle cx="275.87" cy="112.79" r="1.15"/><circle cx="272.33" cy="124.03" r="1.15"/><circle cx="284.06" cy="108.14" r="1.15"/><circle cx="269.21" cy="107.75" r="1.15"/><circle cx="268.37" cy="110.71" r="1.15"/><circle cx="268.12" cy="123.31" r="1.15"/><circle cx="271.37" cy="111.61" r="1.15"/><circle cx="265.19" cy="99.61" r="1.15"/><circle cx="287.42" cy="110.85" r="1.15"/><circle cx="298.85" cy="107.99" r="1.15"/><circle cx="295.01" cy="109.81" r="1.15"/><circle cx="287.29" cy="115.87" r="1.15"/><circle cx="265.63" cy="104.73" r="1.15"/><circle cx="272.80" cy="134.58" r="1.15"/><circle cx="274.52" cy="113.00" r="1.15"/><circle cx="271.36" cy="107.08" r="1.15"/><circle cx="262.85" cy="118.57" r="1.15"/><circle cx="271.44" cy="109.16" r="1.15"/><circle cx="273.70" cy="101.74" r="1.15"/><circle cx="263.67" cy="122.55" r="1.15"/><circle cx="267.16" cy="121.91" r="1.15"/><circle cx="279.70" cy="108.49" r="1.15"/><circle cx="280.43" cy="111.90" r="1.15"/><circle cx="277.07" cy="110.78" r="1.15"/><circle cx="282.93" cy="100.38" r="1.15"/><circle cx="257.28" cy="121.23" r="1.15"/><circle cx="286.60" cy="111.16" r="1.15"/><circle cx="254.98" cy="113.70" r="1.15"/><circle cx="273.73" cy="109.35" r="1.15"/><circle cx="295.02" cy="109.55" r="1.15"/><circle cx="276.11" cy="115.89" r="1.15"/><circle cx="284.64" cy="114.02" r="1.15"/><circle cx="279.39" cy="110.89" r="1.15"/><circle cx="278.25" cy="99.05" r="1.15"/><circle cx="260.98" cy="120.39" r="1.15"/><circle cx="272.77" cy="117.15" r="1.15"/><circle cx="276.46" cy="108.77" r="1.15"/><circle cx="268.30" cy="117.33" r="1.15"/><circle cx="276.95" cy="114.68" r="1.15"/><circle cx="269.11" cy="128.34" r="1.15"/><circle cx="268.97" cy="113.74" r="1.15"/><circle cx="292.93" cy="113.65" r="1.15"/><circle cx="266.28" cy="120.75" r="1.15"/><circle cx="275.21" cy="124.96" r="1.15"/><circle cx="273.49" cy="127.91" r="1.15"/><circle cx="288.07" cy="123.99" r="1.15"/><circle cx="291.25" cy="113.87" r="1.15"/><circle cx="276.16" cy="125.34" r="1.15"/><circle cx="267.55" cy="139.02" r="1.15"/><circle cx="275.89" cy="95.23" r="1.15"/><circle cx="262.62" cy="113.16" r="1.15"/><circle cx="280.38" cy="121.77" r="1.15"/><circle cx="277.85" cy="88.79" r="1.15"/><circle cx="273.49" cy="117.53" r="1.15"/><circle cx="277.86" cy="114.18" r="1.15"/><circle cx="274.41" cy="98.42" r="1.15"/><circle cx="271.44" cy="107.06" r="1.15"/><circle cx="292.69" cy="108.58" r="1.15"/><circle cx="278.34" cy="118.18" r="1.15"/><circle cx="280.38" cy="104.05" r="1.15"/><circle cx="279.17" cy="102.26" r="1.15"/><circle cx="269.35" cy="110.85" r="1.15"/><circle cx="274.33" cy="120.40" r="1.15"/><circle cx="249.95" cy="118.20" r="1.15"/><circle cx="267.25" cy="120.63" r="1.15"/><circle cx="267.39" cy="104.44" r="1.15"/><circle cx="283.73" cy="118.12" r="1.15"/><circle cx="276.68" cy="115.57" r="1.15"/><circle cx="284.59" cy="122.34" r="1.15"/><circle cx="263.20" cy="98.71" r="1.15"/><circle cx="270.35" cy="96.08" r="1.15"/><circle cx="300.82" cy="90.23" r="1.15"/><circle cx="264.15" cy="124.57" r="1.15"/><circle cx="280.38" cy="100.72" r="1.15"/><circle cx="266.54" cy="124.08" r="1.15"/><circle cx="274.78" cy="115.41" r="1.15"/><circle cx="279.74" cy="121.85" r="1.15"/><circle cx="271.91" cy="120.74" r="1.15"/><circle cx="287.49" cy="112.55" r="1.15"/><circle cx="287.67" cy="119.30" r="1.15"/><circle cx="285.79" cy="106.15" r="1.15"/><circle cx="268.04" cy="105.43" r="1.15"/><circle cx="268.79" cy="137.81" r="1.15"/><circle cx="283.92" cy="118.31" r="1.15"/><circle cx="257.36" cy="98.20" r="1.15"/><circle cx="272.97" cy="116.67" r="1.15"/><circle cx="268.66" cy="107.89" r="1.15"/><circle cx="276.84" cy="112.39" r="1.15"/><circle cx="267.05" cy="125.80" r="1.15"/><circle cx="284.23" cy="127.03" r="1.15"/><circle cx="278.13" cy="108.92" r="1.15"/><circle cx="300.24" cy="115.50" r="1.15"/><circle cx="272.30" cy="128.74" r="1.15"/><circle cx="270.30" cy="120.71" r="1.15"/><circle cx="272.19" cy="115.00" r="1.15"/><circle cx="277.58" cy="114.58" r="1.15"/><circle cx="265.48" cy="129.59" r="1.15"/><circle cx="272.72" cy="110.73" r="1.15"/><circle cx="290.13" cy="123.48" r="1.15"/><circle cx="271.47" cy="119.32" r="1.15"/><circle cx="272.22" cy="104.84" r="1.15"/><circle cx="281.04" cy="121.67" r="1.15"/><circle cx="277.63" cy="111.21" r="1.15"/><circle cx="278.05" cy="114.88" r="1.15"/><circle cx="288.04" cy="103.31" r="1.15"/><circle cx="287.97" cy="116.61" r="1.15"/><circle cx="285.49" cy="114.83" r="1.15"/><circle cx="260.44" cy="123.09" r="1.15"/><circle cx="281.83" cy="113.02" r="1.15"/><circle cx="269.88" cy="107.97" r="1.15"/><circle cx="282.93" cy="133.77" r="1.15"/><circle cx="276.60" cy="112.28" r="1.15"/><circle cx="286.42" cy="111.08" r="1.15"/><circle cx="280.08" cy="98.97" r="1.15"/><circle cx="259.21" cy="117.01" r="1.15"/><circle cx="274.73" cy="134.10" r="1.15"/><circle cx="276.38" cy="121.38" r="1.15"/><circle cx="257.37" cy="126.77" r="1.15"/><circle cx="272.99" cy="101.38" r="1.15"/><circle cx="283.53" cy="126.97" r="1.15"/><circle cx="261.79" cy="114.64" r="1.15"/><circle cx="280.09" cy="106.09" r="1.15"/><circle cx="271.79" cy="115.86" r="1.15"/><circle cx="275.32" cy="119.15" r="1.15"/><circle cx="277.88" cy="113.24" r="1.15"/><circle cx="273.22" cy="116.22" r="1.15"/><circle cx="281.73" cy="132.95" r="1.15"/><circle cx="270.66" cy="119.79" r="1.15"/><circle cx="292.40" cy="107.41" r="1.15"/><circle cx="284.46" cy="92.11" r="1.15"/><circle cx="272.06" cy="126.43" r="1.15"/><circle cx="267.10" cy="101.58" r="1.15"/><circle cx="274.88" cy="107.94" r="1.15"/><circle cx="282.77" cy="136.75" r="1.15"/><circle cx="269.19" cy="111.02" r="1.15"/><circle cx="285.38" cy="107.42" r="1.15"/><circle cx="270.50" cy="105.63" r="1.15"/><circle cx="267.95" cy="107.55" r="1.15"/><circle cx="271.84" cy="130.81" r="1.15"/><circle cx="263.36" cy="119.00" r="1.15"/><circle cx="270.27" cy="117.86" r="1.15"/><circle cx="276.96" cy="110.39" r="1.15"/><circle cx="278.63" cy="96.08" r="1.15"/><circle cx="267.49" cy="119.25" r="1.15"/><circle cx="279.30" cy="124.50" r="1.15"/><circle cx="286.15" cy="98.24" r="1.15"/><circle cx="276.20" cy="119.61" r="1.15"/><circle cx="284.63" cy="120.82" r="1.15"/><circle cx="266.78" cy="107.69" r="1.15"/><circle cx="288.18" cy="115.51" r="1.15"/><circle cx="260.68" cy="104.16" r="1.15"/><circle cx="267.15" cy="128.84" r="1.15"/><circle cx="261.62" cy="121.38" r="1.15"/><circle cx="271.68" cy="105.04" r="1.15"/><circle cx="252.40" cy="130.76" r="1.15"/><circle cx="257.99" cy="120.98" r="1.15"/><circle cx="264.58" cy="103.92" r="1.15"/><circle cx="284.42" cy="120.44" r="1.15"/><circle cx="292.49" cy="115.43" r="1.15"/><circle cx="266.63" cy="109.80" r="1.15"/><circle cx="277.26" cy="108.75" r="1.15"/><circle cx="272.89" cy="111.12" r="1.15"/><circle cx="280.98" cy="107.79" r="1.15"/><circle cx="277.13" cy="99.03" r="1.15"/><circle cx="280.93" cy="121.87" r="1.15"/><circle cx="288.85" cy="105.53" r="1.15"/><circle cx="275.62" cy="103.86" r="1.15"/><circle cx="265.12" cy="117.16" r="1.15"/><circle cx="258.02" cy="119.39" r="1.15"/><circle cx="270.84" cy="116.31" r="1.15"/><circle cx="285.41" cy="115.02" r="1.15"/><circle cx="280.27" cy="119.05" r="1.15"/><circle cx="269.75" cy="106.97" r="1.15"/><circle cx="276.68" cy="115.23" r="1.15"/><circle cx="262.00" cy="114.91" r="1.15"/><circle cx="266.07" cy="102.21" r="1.15"/><circle cx="263.68" cy="111.57" r="1.15"/><circle cx="290.90" cy="103.24" r="1.15"/><circle cx="257.21" cy="111.19" r="1.15"/><circle cx="280.76" cy="102.76" r="1.15"/><circle cx="287.50" cy="110.99" r="1.15"/><circle cx="278.44" cy="104.76" r="1.15"/><circle cx="266.13" cy="113.60" r="1.15"/><circle cx="266.21" cy="110.98" r="1.15"/><circle cx="275.64" cy="93.69" r="1.15"/><circle cx="257.46" cy="125.24" r="1.15"/><circle cx="273.20" cy="116.86" r="1.15"/><circle cx="274.39" cy="116.92" r="1.15"/><circle cx="252.97" cy="120.11" r="1.15"/><circle cx="283.33" cy="97.66" r="1.15"/><circle cx="291.37" cy="112.43" r="1.15"/><circle cx="262.89" cy="113.59" r="1.15"/><circle cx="285.60" cy="103.73" r="1.15"/><circle cx="247.37" cy="103.26" r="1.15"/><circle cx="264.80" cy="110.80" r="1.15"/><circle cx="260.31" cy="114.14" r="1.15"/><circle cx="269.44" cy="102.24" r="1.15"/><circle cx="291.88" cy="119.60" r="1.15"/><circle cx="266.07" cy="117.82" r="1.15"/><circle cx="272.33" cy="95.48" r="1.15"/><circle cx="278.75" cy="112.69" r="1.15"/><circle cx="275.70" cy="114.24" r="1.15"/><circle cx="284.90" cy="107.67" r="1.15"/><circle cx="283.16" cy="125.01" r="1.15"/><circle cx="258.46" cy="126.67" r="1.15"/><circle cx="281.81" cy="110.00" r="1.15"/><circle cx="276.58" cy="105.91" r="1.15"/><circle cx="270.09" cy="107.22" r="1.15"/><circle cx="269.63" cy="118.68" r="1.15"/><circle cx="272.28" cy="115.75" r="1.15"/><circle cx="276.46" cy="103.57" r="1.15"/><circle cx="274.45" cy="109.80" r="1.15"/><circle cx="273.44" cy="117.00" r="1.15"/><circle cx="287.75" cy="107.10" r="1.15"/><circle cx="283.70" cy="102.06" r="1.15"/><circle cx="266.28" cy="97.87" r="1.15"/><circle cx="275.56" cy="117.24" r="1.15"/><circle cx="274.47" cy="111.26" r="1.15"/><circle cx="273.21" cy="105.67" r="1.15"/><circle cx="274.71" cy="109.56" r="1.15"/><circle cx="267.87" cy="106.99" r="1.15"/><circle cx="274.26" cy="118.12" r="1.15"/><circle cx="274.24" cy="111.25" r="1.15"/><circle cx="261.24" cy="106.51" r="1.15"/><circle cx="272.87" cy="120.35" r="1.15"/><circle cx="275.21" cy="120.25" r="1.15"/><circle cx="279.72" cy="109.26" r="1.15"/><circle cx="272.39" cy="122.92" r="1.15"/><circle cx="265.10" cy="105.39" r="1.15"/><circle cx="277.45" cy="127.87" r="1.15"/><circle cx="268.03" cy="123.87" r="1.15"/><circle cx="294.42" cy="112.45" r="1.15"/><circle cx="262.41" cy="95.37" r="1.15"/><circle cx="263.74" cy="106.67" r="1.15"/><circle cx="283.19" cy="102.22" r="1.15"/><circle cx="262.31" cy="121.01" r="1.15"/><circle cx="283.06" cy="130.50" r="1.15"/><circle cx="261.02" cy="125.14" r="1.15"/><circle cx="270.45" cy="104.38" r="1.15"/><circle cx="283.97" cy="114.18" r="1.15"/><circle cx="272.68" cy="118.92" r="1.15"/><circle cx="262.45" cy="116.16" r="1.15"/><circle cx="280.14" cy="120.67" r="1.15"/><circle cx="276.49" cy="127.42" r="1.15"/><circle cx="270.28" cy="115.75" r="1.15"/><circle cx="266.65" cy="110.28" r="1.15"/><circle cx="293.08" cy="109.18" r="1.15"/><circle cx="277.73" cy="117.47" r="1.15"/><circle cx="288.22" cy="101.64" r="1.15"/><circle cx="275.82" cy="105.04" r="1.15"/><circle cx="293.25" cy="98.23" r="1.15"/><circle cx="269.84" cy="124.25" r="1.15"/><circle cx="280.65" cy="111.46" r="1.15"/><circle cx="253.23" cy="99.56" r="1.15"/><circle cx="279.67" cy="118.80" r="1.15"/><circle cx="279.21" cy="132.83" r="1.15"/><circle cx="267.38" cy="125.29" r="1.15"/><circle cx="277.34" cy="123.43" r="1.15"/><circle cx="279.97" cy="111.67" r="1.15"/><circle cx="278.72" cy="136.24" r="1.15"/><circle cx="276.61" cy="114.09" r="1.15"/><circle cx="281.40" cy="126.96" r="1.15"/><circle cx="284.11" cy="126.42" r="1.15"/><circle cx="282.87" cy="107.77" r="1.15"/><circle cx="281.69" cy="120.16" r="1.15"/><circle cx="257.82" cy="110.91" r="1.15"/><circle cx="285.39" cy="112.07" r="1.15"/><circle cx="272.60" cy="99.67" r="1.15"/><circle cx="269.26" cy="126.03" r="1.15"/><circle cx="268.50" cy="115.13" r="1.15"/><circle cx="265.17" cy="120.41" r="1.15"/><circle cx="260.77" cy="115.77" r="1.15"/><circle cx="284.10" cy="111.47" r="1.15"/><circle cx="285.45" cy="116.02" r="1.15"/><circle cx="267.99" cy="110.22" r="1.15"/><circle cx="272.87" cy="113.32" r="1.15"/><circle cx="263.93" cy="116.70" r="1.15"/><circle cx="286.20" cy="121.80" r="1.15"/><circle cx="276.19" cy="117.57" r="1.15"/><circle cx="261.43" cy="124.58" r="1.15"/><circle cx="284.67" cy="110.00" r="1.15"/><circle cx="266.86" cy="112.18" r="1.15"/><circle cx="281.69" cy="93.87" r="1.15"/><circle cx="265.40" cy="114.11" r="1.15"/><circle cx="277.94" cy="116.18" r="1.15"/><circle cx="268.20" cy="117.01" r="1.15"/><circle cx="266.10" cy="112.02" r="1.15"/><circle cx="272.84" cy="105.38" r="1.15"/><circle cx="265.48" cy="122.69" r="1.15"/><circle cx="279.94" cy="108.00" r="1.15"/><circle cx="281.41" cy="119.35" r="1.15"/><circle cx="283.52" cy="97.22" r="1.15"/><circle cx="293.17" cy="132.19" r="1.15"/><circle cx="266.54" cy="120.90" r="1.15"/><circle cx="280.98" cy="135.72" r="1.15"/><circle cx="275.46" cy="111.20" r="1.15"/><circle cx="267.74" cy="127.16" r="1.15"/><circle cx="266.76" cy="116.04" r="1.15"/><circle cx="268.44" cy="141.02" r="1.15"/><circle cx="274.45" cy="124.38" r="1.15"/><circle cx="296.79" cy="107.07" r="1.15"/><circle cx="279.65" cy="117.51" r="1.15"/><circle cx="267.62" cy="117.38" r="1.15"/><circle cx="292.32" cy="107.23" r="1.15"/><circle cx="280.09" cy="108.15" r="1.15"/><circle cx="278.83" cy="108.96" r="1.15"/><circle cx="302.53" cy="109.61" r="1.15"/><circle cx="279.60" cy="125.57" r="1.15"/><circle cx="258.38" cy="128.61" r="1.15"/><circle cx="286.13" cy="96.95" r="1.15"/><circle cx="283.17" cy="103.81" r="1.15"/><circle cx="263.44" cy="100.87" r="1.15"/><circle cx="263.94" cy="106.31" r="1.15"/><circle cx="272.29" cy="116.62" r="1.15"/><circle cx="277.82" cy="112.90" r="1.15"/><circle cx="276.73" cy="107.34" r="1.15"/><circle cx="290.00" cy="104.28" r="1.15"/><circle cx="267.99" cy="129.48" r="1.15"/><circle cx="289.59" cy="122.00" r="1.15"/><circle cx="275.60" cy="114.61" r="1.15"/><circle cx="278.56" cy="114.29" r="1.15"/><circle cx="278.82" cy="112.02" r="1.15"/><circle cx="282.83" cy="105.58" r="1.15"/><circle cx="255.23" cy="129.88" r="1.15"/><circle cx="280.60" cy="117.97" r="1.15"/><circle cx="263.01" cy="111.70" r="1.15"/><circle cx="282.52" cy="121.09" r="1.15"/><circle cx="273.84" cy="118.19" r="1.15"/><circle cx="258.11" cy="120.53" r="1.15"/><circle cx="271.83" cy="112.11" r="1.15"/><circle cx="251.43" cy="110.47" r="1.15"/><circle cx="278.34" cy="107.11" r="1.15"/><circle cx="273.16" cy="124.43" r="1.15"/><circle cx="254.41" cy="112.71" r="1.15"/><circle cx="267.30" cy="118.19" r="1.15"/><circle cx="284.36" cy="115.23" r="1.15"/><circle cx="271.73" cy="93.77" r="1.15"/><circle cx="270.22" cy="101.75" r="1.15"/><circle cx="283.26" cy="114.07" r="1.15"/><circle cx="281.79" cy="129.55" r="1.15"/><circle cx="268.54" cy="102.59" r="1.15"/><circle cx="276.87" cy="103.60" r="1.15"/><circle cx="288.58" cy="110.83" r="1.15"/><circle cx="269.90" cy="96.32" r="1.15"/><circle cx="268.79" cy="119.21" r="1.15"/><circle cx="272.99" cy="118.63" r="1.15"/><circle cx="270.21" cy="119.92" r="1.15"/><circle cx="267.14" cy="126.80" r="1.15"/><circle cx="274.41" cy="121.16" r="1.15"/><circle cx="287.26" cy="104.73" r="1.15"/><circle cx="278.94" cy="115.38" r="1.15"/><circle cx="296.62" cy="118.98" r="1.15"/><circle cx="267.71" cy="107.02" r="1.15"/><circle cx="288.79" cy="102.20" r="1.15"/><circle cx="283.20" cy="74.40" r="1.15"/><circle cx="268.00" cy="84.70" r="1.15"/><circle cx="305.00" cy="106.40" r="1.15"/><circle cx="314.50" cy="110.90" r="1.15"/><circle cx="251.00" cy="93.00" r="1.15"/><circle cx="300.00" cy="95.00" r="1.15"/><circle cx="258.00" cy="88.50" r="1.15"/></g>
<line x1="229.50" y1="197.40" x2="229.50" y2="329.10" stroke="#7a7a7a" stroke-width="0.90" />
<line x1="229.50" y1="307.15" x2="232.00" y2="307.15" stroke="#7a7a7a" stroke-width="0.90" />
<line x1="229.50" y1="285.20" x2="232.00" y2="285.20" stroke="#7a7a7a" stroke-width="0.90" />
<line x1="229.50" y1="263.25" x2="232.00" y2="263.25" stroke="#7a7a7a" stroke-width="0.90" />
<line x1="229.50" y1="241.30" x2="232.00" y2="241.30" stroke="#7a7a7a" stroke-width="0.90" />
<line x1="229.50" y1="219.35" x2="232.00" y2="219.35" stroke="#7a7a7a" stroke-width="0.90" />
<line x1="229.50" y1="197.40" x2="232.00" y2="197.40" stroke="#7a7a7a" stroke-width="0.90" />
<line x1="229.50" y1="329.10" x2="362.30" y2="329.10" stroke="#7a7a7a" stroke-width="0.90" />
<line x1="262.57" y1="329.10" x2="262.57" y2="326.60" stroke="#7a7a7a" stroke-width="0.90" />
<line x1="295.65" y1="329.10" x2="295.65" y2="326.60" stroke="#7a7a7a" stroke-width="0.90" />
<line x1="328.73" y1="329.10" x2="328.73" y2="326.60" stroke="#7a7a7a" stroke-width="0.90" />
<line x1="361.80" y1="329.10" x2="361.80" y2="326.60" stroke="#7a7a7a" stroke-width="0.90" />
<text x="221.60" y="331.70" font-family="Liberation Serif" font-size="9.50" text-anchor="end" font-weight="normal" fill="#333333" >0</text>
<text x="221.60" y="265.85" font-family="Liberation Serif" font-size="9.50" text-anchor="end" font-weight="normal" fill="#333333" >3</text>
<text x="221.60" y="200.00" font-family="Liberation Serif" font-size="9.50" text-anchor="end" font-weight="normal" fill="#333333" >6</text>
<text x="229.50" y="344.20" font-family="Liberation Serif" font-size="9.50" text-anchor="middle" font-weight="normal" fill="#333333" >2</text>
<text x="295.65" y="344.20" font-family="Liberation Serif" font-size="9.50" text-anchor="middle" font-weight="normal" fill="#333333" >3</text>
<text x="361.80" y="344.20" font-family="Liberation Serif" font-size="9.50" text-anchor="middle" font-weight="normal" fill="#333333" >4</text>
<text x="295.60" y="356.80" font-family="Liberation Serif" font-size="9.80" text-anchor="middle" font-weight="normal" fill="#333333" textLength="12.00" lengthAdjust="spacingAndGlyphs" >ISI</text>
<text transform="translate(208.00,263.00) rotate(-90)" x="0" y="0" font-family="Liberation Serif" font-size="10.20" text-anchor="middle" fill="#333333" textLength="29.80" lengthAdjust="spacingAndGlyphs">Density</text>
<path d="M229.50,329.10 C230.58,329.08 234.08,329.10 236.00,329.00 C237.92,328.90 239.50,328.78 241.00,328.50 C242.50,328.22 243.75,327.83 245.00,327.30 C246.25,326.77 247.42,326.02 248.50,325.30 C249.58,324.58 250.55,323.88 251.50,323.00 C252.45,322.12 253.33,321.17 254.20,320.00 C255.07,318.83 255.93,317.42 256.70,316.00 C257.47,314.58 258.20,313.00 258.80,311.50 C259.40,310.00 259.68,309.08 260.30,307.00 C260.92,304.92 261.85,301.37 262.50,299.00 C263.15,296.63 263.58,294.63 264.20,292.80 C264.82,290.97 265.38,290.28 266.20,288.00 C267.02,285.72 268.12,281.55 269.10,279.10 C270.08,276.65 271.12,274.77 272.10,273.30 C273.08,271.83 274.03,270.47 275.00,270.30 C275.97,270.13 277.08,271.15 277.90,272.30 C278.72,273.45 279.08,275.25 279.90,277.20 C280.72,279.15 281.82,281.55 282.80,284.00 C283.78,286.45 284.82,289.15 285.80,291.90 C286.78,294.65 287.95,298.23 288.70,300.50 C289.45,302.77 289.63,303.42 290.30,305.50 C290.97,307.58 291.83,310.67 292.70,313.00 C293.57,315.33 294.55,317.70 295.50,319.50 C296.45,321.30 297.32,322.62 298.40,323.80 C299.48,324.98 300.57,325.85 302.00,326.60 C303.43,327.35 304.83,327.90 307.00,328.30 C309.17,328.70 305.83,328.87 315.00,329.00 C324.17,329.13 354.17,329.08 362.00,329.10" fill="none" stroke="#261c86" stroke-width="1.70" stroke-linejoin="round" stroke-linecap="round" />
<path d="M245.00,329.00 C246.30,328.87 250.72,328.78 252.80,328.20 C254.88,327.62 256.08,326.78 257.50,325.50 C258.92,324.22 260.13,322.58 261.30,320.50 C262.47,318.42 263.47,315.75 264.50,313.00 C265.53,310.25 266.58,307.33 267.50,304.00 C268.42,300.67 269.23,296.50 270.00,293.00 C270.77,289.50 271.43,286.17 272.10,283.00 C272.77,279.83 273.35,276.93 274.00,274.00 C274.65,271.07 275.42,267.90 276.00,265.40 C276.58,262.90 277.08,260.47 277.50,259.00 C277.92,257.53 278.08,256.80 278.50,256.60 C278.92,256.40 279.53,257.30 280.00,257.80 C280.47,258.30 280.80,258.65 281.30,259.60 C281.80,260.55 282.42,261.87 283.00,263.50 C283.58,265.13 284.17,267.15 284.80,269.40 C285.43,271.65 286.15,274.40 286.80,277.00 C287.45,279.60 288.12,282.17 288.70,285.00 C289.28,287.83 289.78,291.17 290.30,294.00 C290.82,296.83 291.27,299.42 291.80,302.00 C292.33,304.58 292.87,307.08 293.50,309.50 C294.13,311.92 294.85,314.33 295.60,316.50 C296.35,318.67 297.18,320.88 298.00,322.50 C298.82,324.12 299.33,325.20 300.50,326.20 C301.67,327.20 303.08,328.02 305.00,328.50 C306.92,328.98 310.83,329.00 312.00,329.10" fill="none" stroke="#a82530" stroke-width="1.70" stroke-linejoin="round" stroke-linecap="round" />
<path d="M262.00,329.10 C262.83,329.05 265.58,329.07 267.00,328.80 C268.42,328.53 269.55,328.10 270.50,327.50 C271.45,326.90 271.98,326.28 272.70,325.20 C273.42,324.12 274.22,322.58 274.80,321.00 C275.38,319.42 275.80,318.20 276.20,315.70 C276.60,313.20 276.75,312.10 277.20,306.00 C277.65,299.90 278.37,287.10 278.90,279.10 C279.43,271.10 280.00,264.52 280.40,258.00 C280.80,251.48 280.95,246.43 281.30,240.00 C281.65,233.57 282.13,225.57 282.50,219.40 C282.87,213.23 283.18,207.08 283.50,203.00 C283.82,198.92 284.12,195.07 284.40,194.90 C284.68,194.73 284.95,199.72 285.20,202.00 C285.45,204.28 285.48,204.08 285.90,208.60 C286.32,213.12 287.07,221.43 287.70,229.10 C288.33,236.77 289.08,246.12 289.70,254.60 C290.32,263.08 290.92,272.43 291.40,280.00 C291.88,287.57 292.23,294.67 292.60,300.00 C292.97,305.33 293.27,308.67 293.60,312.00 C293.93,315.33 294.20,317.72 294.60,320.00 C295.00,322.28 295.37,324.32 296.00,325.70 C296.63,327.08 297.40,327.73 298.40,328.30 C299.40,328.87 301.40,328.97 302.00,329.10" fill="none" stroke="#111111" stroke-width="1.90" stroke-linejoin="round" stroke-linecap="round" />
<text x="236.80" y="226.30" font-family="Liberation Serif" font-size="9.50" text-anchor="start" font-weight="normal" fill="#333333" textLength="24.90" lengthAdjust="spacingAndGlyphs" >D=0.1</text>
<line x1="262.30" y1="228.20" x2="277.10" y2="238.04" stroke="#111111" stroke-width="0.80" />
<polygon points="279.90,239.90 275.46,238.99 277.34,236.16" fill="#111111"/>
<text x="236.80" y="257.10" font-family="Liberation Serif" font-size="9.50" text-anchor="start" font-weight="normal" fill="#333333" textLength="24.90" lengthAdjust="spacingAndGlyphs" >D=0.5</text>
<line x1="262.30" y1="259.20" x2="272.19" y2="262.22" stroke="#111111" stroke-width="0.80" />
<polygon points="275.40,263.20 270.89,263.60 271.88,260.35" fill="#111111"/>
<text x="236.80" y="308.10" font-family="Liberation Serif" font-size="9.50" text-anchor="start" font-weight="normal" fill="#333333" textLength="17.70" lengthAdjust="spacingAndGlyphs" >D=1</text>
<line x1="422.70" y1="27.70" x2="422.70" y2="159.70" stroke="#7a7a7a" stroke-width="0.90" />
<line x1="422.70" y1="146.50" x2="425.20" y2="146.50" stroke="#7a7a7a" stroke-width="0.90" />
<line x1="422.70" y1="133.30" x2="425.20" y2="133.30" stroke="#7a7a7a" stroke-width="0.90" />
<line x1="422.70" y1="120.10" x2="425.20" y2="120.10" stroke="#7a7a7a" stroke-width="0.90" />
<line x1="422.70" y1="106.90" x2="425.20" y2="106.90" stroke="#7a7a7a" stroke-width="0.90" />
<line x1="422.70" y1="93.70" x2="425.20" y2="93.70" stroke="#7a7a7a" stroke-width="0.90" />
<line x1="422.70" y1="80.50" x2="425.20" y2="80.50" stroke="#7a7a7a" stroke-width="0.90" />
<line x1="422.70" y1="67.30" x2="425.20" y2="67.30" stroke="#7a7a7a" stroke-width="0.90" />
<line x1="422.70" y1="54.10" x2="425.20" y2="54.10" stroke="#7a7a7a" stroke-width="0.90" />
<line x1="422.70" y1="40.90" x2="425.20" y2="40.90" stroke="#7a7a7a" stroke-width="0.90" />
<line x1="422.70" y1="27.70" x2="425.20" y2="27.70" stroke="#7a7a7a" stroke-width="0.90" />
<line x1="422.70" y1="159.70" x2="556.55" y2="159.70" stroke="#7a7a7a" stroke-width="0.90" />
<line x1="444.93" y1="159.70" x2="444.93" y2="157.20" stroke="#7a7a7a" stroke-width="0.90" />
<line x1="467.15" y1="159.70" x2="467.15" y2="157.20" stroke="#7a7a7a" stroke-width="0.90" />
<line x1="489.38" y1="159.70" x2="489.38" y2="157.20" stroke="#7a7a7a" stroke-width="0.90" />
<line x1="511.60" y1="159.70" x2="511.60" y2="157.20" stroke="#7a7a7a" stroke-width="0.90" />
<line x1="533.83" y1="159.70" x2="533.83" y2="157.20" stroke="#7a7a7a" stroke-width="0.90" />
<line x1="556.05" y1="159.70" x2="556.05" y2="157.20" stroke="#7a7a7a" stroke-width="0.90" />
<text x="414.80" y="162.30" font-family="Liberation Serif" font-size="9.50" text-anchor="end" font-weight="normal" fill="#333333" >0</text>
<text x="414.80" y="135.90" font-family="Liberation Serif" font-size="9.50" text-anchor="end" font-weight="normal" fill="#333333" >0.2</text>
<text x="414.80" y="109.50" font-family="Liberation Serif" font-size="9.50" text-anchor="end" font-weight="normal" fill="#333333" >0.4</text>
<text x="414.80" y="83.10" font-family="Liberation Serif" font-size="9.50" text-anchor="end" font-weight="normal" fill="#333333" >0.6</text>
<text x="414.80" y="56.70" font-family="Liberation Serif" font-size="9.50" text-anchor="end" font-weight="normal" fill="#333333" >0.8</text>
<text x="414.80" y="30.30" font-family="Liberation Serif" font-size="9.50" text-anchor="end" font-weight="normal" fill="#333333" >1</text>
<text x="422.70" y="174.30" font-family="Liberation Serif" font-size="9.50" text-anchor="middle" font-weight="normal" fill="#333333" >0</text>
<text x="467.15" y="174.30" font-family="Liberation Serif" font-size="9.50" text-anchor="middle" font-weight="normal" fill="#333333" >0.1</text>
<text x="511.60" y="174.30" font-family="Liberation Serif" font-size="9.50" text-anchor="middle" font-weight="normal" fill="#333333" >0.2</text>
<text x="556.05" y="174.30" font-family="Liberation Serif" font-size="9.50" text-anchor="middle" font-weight="normal" fill="#333333" >0.3</text>
<text x="489.00" y="186.00" font-family="Liberation Serif" font-size="10.00" text-anchor="middle" font-weight="normal" fill="#333333" font-style="italic" >w</text>
<text transform="translate(393.60,94.00) rotate(-90)" x="0" y="0" font-family="Liberation Serif" font-size="10.20" text-anchor="middle" fill="#333333" textLength="90.00" lengthAdjust="spacingAndGlyphs">Cluster coefficient, <tspan font-style="italic">C</tspan><tspan font-size="7" font-style="italic" dy="1.5">w</tspan></text>
<path d="M423.00,159.60 C424.65,158.75 430.13,156.33 432.90,154.50 C435.67,152.67 437.57,150.93 439.60,148.60 C441.63,146.27 443.77,142.43 445.10,140.50 C446.43,138.57 446.77,138.17 447.60,137.00 C448.43,135.83 449.27,134.78 450.10,133.50 C450.93,132.22 451.83,130.75 452.60,129.30 C453.37,127.85 453.93,126.43 454.70,124.80 C455.47,123.17 456.43,121.13 457.20,119.50 C457.97,117.87 458.53,116.53 459.30,115.00 C460.07,113.47 460.97,111.97 461.80,110.30 C462.63,108.63 463.40,106.75 464.30,105.00 C465.20,103.25 466.22,101.50 467.20,99.80 C468.18,98.10 468.87,96.95 470.20,94.80 C471.53,92.65 473.53,89.62 475.20,86.90 C476.87,84.18 478.53,81.30 480.20,78.50 C481.87,75.70 483.52,72.90 485.20,70.10 C486.88,67.30 488.62,64.42 490.30,61.70 C491.98,58.98 493.73,55.95 495.30,53.80 C496.87,51.65 498.08,50.43 499.70,48.80 C501.32,47.17 503.17,45.38 505.00,44.00 C506.83,42.62 508.87,41.57 510.70,40.50 C512.53,39.43 514.22,38.42 516.00,37.60 C517.78,36.78 518.73,36.50 521.40,35.60 C524.07,34.70 528.43,33.13 532.00,32.20 C535.57,31.27 539.22,30.62 542.80,30.00 C546.38,29.38 551.13,28.78 553.50,28.50 C555.87,28.22 556.42,28.33 557.00,28.30" fill="none" stroke="#261c86" stroke-width="0.80" stroke-linejoin="round" stroke-linecap="round" />
<path d="M427.50,155.86V159.35M426.00,155.86h3.00M426.00,159.35h3.00M431.50,153.06V157.54M430.00,153.06h3.00M430.00,157.54h3.00M436.50,149.45V154.87M435.00,149.45h3.00M435.00,154.87h3.00M440.50,144.28V150.74M439.00,144.28h3.00M439.00,150.74h3.00M444.50,136.96V144.56M443.00,136.96h3.00M443.00,144.56h3.00M449.50,130.37V138.78M448.00,130.37h3.00M448.00,138.78h3.00M453.50,122.15V131.36M452.00,122.15h3.00M452.00,131.36h3.00M458.50,112.23V122.15M457.00,112.23h3.00M457.00,122.15h3.00M462.50,103.22V113.55M461.00,103.22h3.00M461.00,113.55h3.00M467.50,94.61V105.16M466.00,94.61h3.00M466.00,105.16h3.00M471.50,87.29V97.89M470.00,87.29h3.00M470.00,97.89h3.00M476.50,80.26V90.78M475.00,80.26h3.00M475.00,90.78h3.00M480.50,72.87V83.17M479.00,72.87h3.00M479.00,83.17h3.00M484.50,65.58V75.52M483.00,65.58h3.00M483.00,75.52h3.00M489.50,58.49V67.91M488.00,58.49h3.00M488.00,67.91h3.00M493.50,51.60V60.36M492.00,51.60h3.00M492.00,60.36h3.00M498.50,46.21V54.32M497.00,46.21h3.00M497.00,54.32h3.00M502.50,42.16V49.65M501.00,42.16h3.00M501.00,49.65h3.00M507.50,39.07V46.03M506.00,39.07h3.00M506.00,46.03h3.00M511.50,36.73V43.22M510.00,36.73h3.00M510.00,43.22h3.00M516.50,34.59V40.57M515.00,34.59h3.00M515.00,40.57h3.00M520.50,33.11V38.70M519.00,33.11h3.00M519.00,38.70h3.00M524.50,31.80V36.99M523.00,31.80h3.00M523.00,36.99h3.00M529.50,30.57V35.33M528.00,30.57h3.00M528.00,35.33h3.00M533.50,29.57V33.92M532.00,29.57h3.00M532.00,33.92h3.00M538.50,28.82V32.80M537.00,28.82h3.00M537.00,32.80h3.00M542.50,28.21V31.82M541.00,28.21h3.00M541.00,31.82h3.00M547.50,27.72V30.94M546.00,27.72h3.00M546.00,30.94h3.00M551.50,27.33V30.14M550.00,27.33h3.00M550.00,30.14h3.00M556.50,27.09V29.52M555.00,27.09h3.00M555.00,29.52h3.00" fill="none" stroke="#261c86" stroke-width="0.75"/>
<path d="M423.00,159.60 C424.37,158.60 428.85,155.72 431.20,153.60 C433.55,151.48 435.57,149.17 437.10,146.90 C438.63,144.63 439.50,141.98 440.40,140.00 C441.30,138.02 441.72,136.73 442.50,135.00 C443.28,133.27 444.32,131.25 445.10,129.60 C445.88,127.95 446.52,126.67 447.20,125.10 C447.88,123.53 448.43,122.05 449.20,120.20 C449.97,118.35 451.02,115.93 451.80,114.00 C452.58,112.07 453.28,110.27 453.90,108.60 C454.52,106.93 454.88,105.67 455.50,104.00 C456.12,102.33 456.92,100.30 457.60,98.60 C458.28,96.90 458.87,95.52 459.60,93.80 C460.33,92.08 460.80,91.00 462.00,88.30 C463.20,85.60 465.30,80.85 466.80,77.60 C468.30,74.35 469.47,71.70 471.00,68.80 C472.53,65.90 474.32,63.00 476.00,60.20 C477.68,57.40 479.57,54.30 481.10,52.00 C482.63,49.70 483.40,48.30 485.20,46.40 C487.00,44.50 489.43,42.37 491.90,40.60 C494.37,38.83 496.87,37.20 500.00,35.80 C503.13,34.40 507.13,33.17 510.70,32.20 C514.27,31.23 517.85,30.53 521.40,30.00 C524.95,29.47 528.43,29.28 532.00,29.00 C535.57,28.72 538.63,28.48 542.80,28.30 C546.97,28.12 554.63,27.97 557.00,27.90" fill="none" stroke="#a82530" stroke-width="0.80" stroke-linejoin="round" stroke-linecap="round" />
<path d="M427.50,155.13V158.32M426.00,155.13h3.00M426.00,158.32h3.00M431.50,151.20V155.29M430.00,151.20h3.00M430.00,155.29h3.00M436.50,145.90V150.86M435.00,145.90h3.00M435.00,150.86h3.00M440.50,136.80V142.85M439.00,136.80h3.00M439.00,142.85h3.00M444.50,126.50V133.43M443.00,126.50h3.00M443.00,133.43h3.00M449.50,116.01V123.57M448.00,116.01h3.00M448.00,123.57h3.00M453.50,104.83V112.82M452.00,104.83h3.00M452.00,112.82h3.00M458.50,92.88V101.07M457.00,92.88h3.00M457.00,101.07h3.00M462.50,82.63V90.79M461.00,82.63h3.00M461.00,90.79h3.00M467.50,72.87V80.81M466.00,72.87h3.00M466.00,80.81h3.00M471.50,63.91V71.48M470.00,63.91h3.00M470.00,71.48h3.00M476.50,56.57V63.69M475.00,56.57h3.00M475.00,63.69h3.00M480.50,49.65V56.22M479.00,49.65h3.00M479.00,56.22h3.00M484.50,43.71V49.67M483.00,43.71h3.00M483.00,49.67h3.00M489.50,39.81V45.27M488.00,39.81h3.00M488.00,45.27h3.00M493.50,36.76V41.77M492.00,36.76h3.00M492.00,41.77h3.00M498.50,34.34V38.92M497.00,34.34h3.00M497.00,38.92h3.00M502.50,32.60V36.81M501.00,32.60h3.00M501.00,36.81h3.00M507.50,31.27V35.16M506.00,31.27h3.00M506.00,35.16h3.00M511.50,30.18V33.75M510.00,30.18h3.00M510.00,33.75h3.00M516.50,29.30V32.58M515.00,29.30h3.00M515.00,32.58h3.00M520.50,28.64V31.64M519.00,28.64h3.00M519.00,31.64h3.00M524.50,28.18V30.95M523.00,28.18h3.00M523.00,30.95h3.00M529.50,27.89V30.50M528.00,27.89h3.00M528.00,30.50h3.00M533.50,27.64V30.07M532.00,27.64h3.00M532.00,30.07h3.00M538.50,27.42V29.66M537.00,27.42h3.00M537.00,29.66h3.00M542.50,27.27V29.34M541.00,27.27h3.00M541.00,29.34h3.00M547.50,27.18V29.11M546.00,27.18h3.00M546.00,29.11h3.00M551.50,27.12V28.94M550.00,27.12h3.00M550.00,28.94h3.00M556.50,27.08V28.77M555.00,27.08h3.00M555.00,28.77h3.00" fill="none" stroke="#a82530" stroke-width="0.75"/>
<path d="M423.00,159.60 C423.82,158.33 426.53,154.67 427.90,152.00 C429.27,149.33 430.08,146.97 431.20,143.60 C432.32,140.23 433.68,135.37 434.60,131.80 C435.52,128.23 436.02,125.33 436.70,122.20 C437.38,119.07 438.02,115.95 438.70,113.00 C439.38,110.05 440.12,107.50 440.80,104.50 C441.48,101.50 442.10,98.33 442.80,95.00 C443.50,91.67 444.22,87.82 445.00,84.50 C445.78,81.18 446.65,78.05 447.50,75.10 C448.35,72.15 449.12,69.58 450.10,66.80 C451.08,64.02 452.43,60.97 453.40,58.40 C454.37,55.83 455.07,53.53 455.90,51.40 C456.73,49.27 457.43,47.43 458.40,45.60 C459.37,43.77 460.30,41.97 461.70,40.40 C463.10,38.83 465.20,37.28 466.80,36.20 C468.40,35.12 469.62,34.72 471.30,33.90 C472.98,33.08 474.95,31.97 476.90,31.30 C478.85,30.63 480.68,30.28 483.00,29.90 C485.32,29.52 487.63,29.27 490.80,29.00 C493.97,28.73 497.13,28.48 502.00,28.30 C506.87,28.12 510.83,28.02 520.00,27.90 C529.17,27.78 550.83,27.65 557.00,27.60" fill="none" stroke="#111111" stroke-width="0.80" stroke-linejoin="round" stroke-linecap="round" />
<path d="M427.50,151.66V155.05M426.05,151.66h2.90M426.05,155.05h2.90M431.50,140.04V144.75M430.05,140.04h2.90M430.05,144.75h2.90M436.50,122.46V128.32M435.05,122.46h2.90M435.05,128.32h2.90M440.50,102.61V109.11M439.05,102.61h2.90M439.05,109.11h2.90M444.50,81.55V88.09M443.05,81.55h2.90M443.05,88.09h2.90M449.50,65.87V72.02M448.05,65.87h2.90M448.05,72.02h2.90M453.50,54.47V60.07M452.05,54.47h2.90M452.05,60.07h2.90M458.50,43.48V48.26M457.05,43.48h2.90M457.05,48.26h2.90M462.50,37.32V41.45M461.05,37.32h2.90M461.05,41.45h2.90M467.50,34.13V37.81M466.05,34.13h2.90M466.05,37.81h2.90M471.50,32.09V35.42M470.05,32.09h2.90M470.05,35.42h2.90M476.50,30.16V33.08M475.05,30.16h2.90M475.05,33.08h2.90M480.50,29.04V31.66M479.05,29.04h2.90M479.05,31.66h2.90M484.50,28.41V30.81M483.05,28.41h2.90M483.05,30.81h2.90M489.50,28.01V30.23M488.05,28.01h2.90M488.05,30.23h2.90M493.50,27.72V29.79M492.05,27.72h2.90M492.05,29.79h2.90M498.50,27.51V29.43M497.05,27.51h2.90M497.05,29.43h2.90M502.50,27.37V29.18M501.05,27.37h2.90M501.05,29.18h2.90M507.50,27.27V28.99M506.05,27.27h2.90M506.05,28.99h2.90M511.50,27.21V28.84M510.05,27.21h2.90M510.05,28.84h2.90M516.50,27.17V28.74M515.05,27.17h2.90M515.05,28.74h2.90M520.50,27.15V28.64M519.05,27.15h2.90M519.05,28.64h2.90M524.50,27.13V28.57M523.05,27.13h2.90M523.05,28.57h2.90M529.50,27.12V28.50M528.05,27.12h2.90M528.05,28.50h2.90M533.50,27.11V28.43M532.05,27.11h2.90M532.05,28.43h2.90M538.50,27.12V28.35M537.05,27.12h2.90M537.05,28.35h2.90M542.50,27.17V28.24M541.05,27.17h2.90M541.05,28.24h2.90M547.50,27.17V28.17M546.05,27.17h2.90M546.05,28.17h2.90M551.50,27.14V28.14M550.05,27.14h2.90M550.05,28.14h2.90M556.50,27.11V28.11M555.05,27.11h2.90M555.05,28.11h2.90" fill="none" stroke="#111111" stroke-width="0.80"/>
<text x="431.50" y="41.30" font-family="Liberation Serif" font-size="9.50" text-anchor="start" font-weight="normal" fill="#333333" textLength="25.80" lengthAdjust="spacingAndGlyphs" >D=0.1</text>
<text x="466.50" y="54.60" font-family="Liberation Serif" font-size="9.50" text-anchor="start" font-weight="normal" fill="#333333" textLength="11.80" lengthAdjust="spacingAndGlyphs" >0.5</text>
<text x="502.90" y="67.90" font-family="Liberation Serif" font-size="9.50" text-anchor="start" font-weight="normal" fill="#333333" textLength="25.90" lengthAdjust="spacingAndGlyphs" >D=1.0</text>
<text x="475.80" y="105.00" font-family="Liberation Serif" font-size="9.50" text-anchor="start" font-weight="normal" fill="#333333" textLength="61.10" lengthAdjust="spacingAndGlyphs" >Simulation size</text>
<line x1="475.80" y1="107.20" x2="536.90" y2="107.20" stroke="#444" stroke-width="0.80" />
<text x="475.80" y="118.20" font-family="Liberation Serif" font-size="9.50" text-anchor="start" font-weight="normal" fill="#333333" textLength="60.30" lengthAdjust="spacingAndGlyphs" >20 realizations,</text>
<text x="476.00" y="132.20" font-family="Liberation Serif" font-size="9.50" text-anchor="start" font-weight="normal" fill="#333333" textLength="57.60" lengthAdjust="spacingAndGlyphs" >1 s/realization</text>
<line x1="422.70" y1="196.88" x2="422.70" y2="329.20" stroke="#7a7a7a" stroke-width="0.90" />
<line x1="422.70" y1="296.12" x2="425.20" y2="296.12" stroke="#7a7a7a" stroke-width="0.90" />
<line x1="422.70" y1="263.04" x2="425.20" y2="263.04" stroke="#7a7a7a" stroke-width="0.90" />
<line x1="422.70" y1="229.96" x2="425.20" y2="229.96" stroke="#7a7a7a" stroke-width="0.90" />
<line x1="422.70" y1="196.88" x2="425.20" y2="196.88" stroke="#7a7a7a" stroke-width="0.90" />
<line x1="422.70" y1="329.20" x2="556.55" y2="329.20" stroke="#7a7a7a" stroke-width="0.90" />
<line x1="444.93" y1="329.20" x2="444.93" y2="326.70" stroke="#7a7a7a" stroke-width="0.90" />
<line x1="467.15" y1="329.20" x2="467.15" y2="326.70" stroke="#7a7a7a" stroke-width="0.90" />
<line x1="489.38" y1="329.20" x2="489.38" y2="326.70" stroke="#7a7a7a" stroke-width="0.90" />
<line x1="511.60" y1="329.20" x2="511.60" y2="326.70" stroke="#7a7a7a" stroke-width="0.90" />
<line x1="533.83" y1="329.20" x2="533.83" y2="326.70" stroke="#7a7a7a" stroke-width="0.90" />
<line x1="556.05" y1="329.20" x2="556.05" y2="326.70" stroke="#7a7a7a" stroke-width="0.90" />
<text x="414.80" y="331.80" font-family="Liberation Serif" font-size="9.50" text-anchor="end" font-weight="normal" fill="#333333" >0</text>
<text x="414.80" y="298.72" font-family="Liberation Serif" font-size="9.50" text-anchor="end" font-weight="normal" fill="#333333" >4</text>
<text x="414.80" y="265.64" font-family="Liberation Serif" font-size="9.50" text-anchor="end" font-weight="normal" fill="#333333" >8</text>
<text x="414.80" y="232.56" font-family="Liberation Serif" font-size="9.50" text-anchor="end" font-weight="normal" fill="#333333" >12</text>
<text x="414.80" y="199.48" font-family="Liberation Serif" font-size="9.50" text-anchor="end" font-weight="normal" fill="#333333" >16</text>
<text x="422.70" y="344.00" font-family="Liberation Serif" font-size="9.50" text-anchor="middle" font-weight="normal" fill="#333333" >0</text>
<text x="467.15" y="344.00" font-family="Liberation Serif" font-size="9.50" text-anchor="middle" font-weight="normal" fill="#333333" >0.1</text>
<text x="511.60" y="344.00" font-family="Liberation Serif" font-size="9.50" text-anchor="middle" font-weight="normal" fill="#333333" >0.2</text>
<text x="556.05" y="344.00" font-family="Liberation Serif" font-size="9.50" text-anchor="middle" font-weight="normal" fill="#333333" >0.3</text>
<text x="489.00" y="355.00" font-family="Liberation Serif" font-size="10.00" text-anchor="middle" font-weight="normal" fill="#333333" font-style="italic" >w</text>
<text transform="translate(396.50,262.60) rotate(-90)" x="0" y="0" font-family="Liberation Serif" font-size="10.20" text-anchor="middle" fill="#333333" textLength="102.50" lengthAdjust="spacingAndGlyphs">Clustering Density, <tspan font-style="italic">F</tspan>(<tspan font-style="italic">w</tspan>)</text>
<path d="M423.00,328.00 C423.08,327.17 423.27,324.30 423.50,323.00 C423.73,321.70 423.90,321.28 424.40,320.20 C424.90,319.12 425.65,317.78 426.50,316.50 C427.35,315.22 428.18,314.08 429.50,312.50 C430.82,310.92 432.98,308.75 434.40,307.00 C435.82,305.25 436.83,303.75 438.00,302.00 C439.17,300.25 440.15,298.42 441.40,296.50 C442.65,294.58 444.03,292.67 445.50,290.50 C446.97,288.33 448.87,285.50 450.20,283.50 C451.53,281.50 452.47,279.98 453.50,278.50 C454.53,277.02 455.32,275.15 456.40,274.60 C457.48,274.05 458.73,275.03 460.00,275.20 C461.27,275.37 462.67,275.60 464.00,275.60 C465.33,275.60 466.75,275.25 468.00,275.20 C469.25,275.15 470.42,274.92 471.50,275.30 C472.58,275.68 473.45,276.42 474.50,277.50 C475.55,278.58 476.63,280.30 477.80,281.80 C478.97,283.30 480.25,285.08 481.50,286.50 C482.75,287.92 483.88,289.13 485.30,290.30 C486.72,291.47 488.43,292.47 490.00,293.50 C491.57,294.53 493.20,295.45 494.70,296.50 C496.20,297.55 497.57,298.68 499.00,299.80 C500.43,300.92 501.63,301.75 503.30,303.20 C504.97,304.65 507.08,306.87 509.00,308.50 C510.92,310.13 512.88,311.62 514.80,313.00 C516.72,314.38 518.58,315.63 520.50,316.80 C522.42,317.97 524.22,319.03 526.30,320.00 C528.38,320.97 530.62,321.88 533.00,322.60 C535.38,323.32 538.10,323.83 540.60,324.30 C543.10,324.77 545.60,325.13 548.00,325.40 C550.40,325.67 553.83,325.82 555.00,325.90" fill="none" stroke="#261c86" stroke-width="1.90" stroke-linejoin="round" stroke-linecap="round" />
<path d="M423.00,323.50 C423.42,322.33 424.55,318.97 425.50,316.50 C426.45,314.03 427.52,311.70 428.70,308.70 C429.88,305.70 431.38,301.78 432.60,298.50 C433.82,295.22 434.85,291.92 436.00,289.00 C437.15,286.08 438.50,283.42 439.50,281.00 C440.50,278.58 441.07,276.58 442.00,274.50 C442.93,272.42 443.93,270.42 445.10,268.50 C446.27,266.58 447.88,264.42 449.00,263.00 C450.12,261.58 450.98,260.77 451.80,260.00 C452.62,259.23 453.12,258.48 453.90,258.40 C454.68,258.32 455.57,258.82 456.50,259.50 C457.43,260.18 458.25,261.42 459.50,262.50 C460.75,263.58 462.67,264.95 464.00,266.00 C465.33,267.05 466.45,267.72 467.50,268.80 C468.55,269.88 469.38,270.88 470.30,272.50 C471.22,274.12 471.97,276.08 473.00,278.50 C474.03,280.92 475.27,284.17 476.50,287.00 C477.73,289.83 479.07,293.08 480.40,295.50 C481.73,297.92 483.07,299.62 484.50,301.50 C485.93,303.38 487.33,305.13 489.00,306.80 C490.67,308.47 492.58,310.03 494.50,311.50 C496.42,312.97 498.33,314.27 500.50,315.60 C502.67,316.93 505.12,318.33 507.50,319.50 C509.88,320.67 512.05,321.63 514.80,322.60 C517.55,323.57 520.65,324.53 524.00,325.30 C527.35,326.07 531.40,326.77 534.90,327.20 C538.40,327.63 541.48,327.73 545.00,327.90 C548.52,328.07 554.17,328.15 556.00,328.20" fill="none" stroke="#a82530" stroke-width="1.90" stroke-linejoin="round" stroke-linecap="round" />
<path d="M423.00,329.20 C423.10,327.33 423.33,322.87 423.60,318.00 C423.87,313.13 424.20,305.50 424.60,300.00 C425.00,294.50 425.43,290.33 426.00,285.00 C426.57,279.67 427.33,273.38 428.00,268.00 C428.67,262.62 429.20,259.03 430.00,252.70 C430.80,246.37 431.97,236.12 432.80,230.00 C433.63,223.88 434.30,219.58 435.00,216.00 C435.70,212.42 436.38,210.25 437.00,208.50 C437.62,206.75 438.10,205.87 438.70,205.50 C439.30,205.13 439.92,205.55 440.60,206.30 C441.28,207.05 442.13,208.55 442.80,210.00 C443.47,211.45 443.90,212.83 444.60,215.00 C445.30,217.17 446.18,220.00 447.00,223.00 C447.82,226.00 448.58,228.83 449.50,233.00 C450.42,237.17 451.55,243.17 452.50,248.00 C453.45,252.83 454.32,257.50 455.20,262.00 C456.08,266.50 456.92,270.83 457.80,275.00 C458.68,279.17 459.55,283.25 460.50,287.00 C461.45,290.75 462.45,294.42 463.50,297.50 C464.55,300.58 465.67,303.15 466.80,305.50 C467.93,307.85 469.02,309.68 470.30,311.60 C471.58,313.52 473.07,315.40 474.50,317.00 C475.93,318.60 477.15,319.90 478.90,321.20 C480.65,322.50 482.85,323.80 485.00,324.80 C487.15,325.80 488.75,326.57 491.80,327.20 C494.85,327.83 498.60,328.28 503.30,328.60 C508.00,328.92 511.22,329.00 520.00,329.10 C528.78,329.20 550.00,329.18 556.00,329.20" fill="none" stroke="#111111" stroke-width="1.90" stroke-linejoin="round" stroke-linecap="round" />
<text x="452.20" y="230.90" font-family="Liberation Serif" font-size="9.50" text-anchor="start" font-weight="normal" fill="#333333" textLength="25.10" lengthAdjust="spacingAndGlyphs" >D=0.1</text>
<text x="484.80" y="266.10" font-family="Liberation Serif" font-size="9.50" text-anchor="start" font-weight="normal" fill="#333333" textLength="26.20" lengthAdjust="spacingAndGlyphs" >D=0.5</text>
<line x1="484.20" y1="263.00" x2="466.30" y2="263.00" stroke="#111111" stroke-width="0.80" />
<polygon points="462.70,263.00 467.20,261.30 467.20,264.70" fill="#111111"/>
<text x="511.40" y="311.10" font-family="Liberation Serif" font-size="9.50" text-anchor="start" font-weight="normal" fill="#333333" textLength="25.80" lengthAdjust="spacingAndGlyphs" >D=1.0</text></svg>
</body></html>
